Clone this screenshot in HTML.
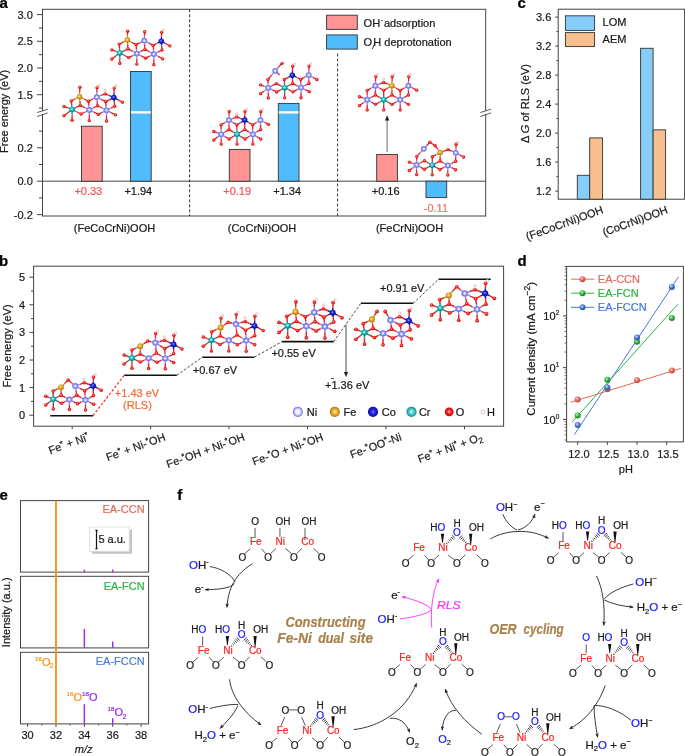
<!DOCTYPE html>
<html><head><meta charset="utf-8"><style>
html,body{margin:0;padding:0;background:#fff;width:685px;height:756px;overflow:hidden}
svg{display:block;will-change:transform;font-family:"Liberation Sans", sans-serif}
text{stroke-width:0.22px}
</style></head><body>
<svg width="685" height="756" viewBox="0 0 685 756" fill="#1a1a1a">
<defs>
<radialGradient id="gNi" cx="0.5" cy="0.5" r="0.5"><stop offset="0" stop-color="#ffffff"/><stop offset="0.22" stop-color="#f0f0ff"/><stop offset="0.5" stop-color="#9a9af2"/><stop offset="1" stop-color="#6c6cdc"/></radialGradient>
<radialGradient id="gFe" cx="0.45" cy="0.42" r="0.6"><stop offset="0" stop-color="#fff08a"/><stop offset="0.45" stop-color="#e0a830"/><stop offset="1" stop-color="#a86e10"/></radialGradient>
<radialGradient id="gCo" cx="0.45" cy="0.42" r="0.6"><stop offset="0" stop-color="#9090ff"/><stop offset="0.45" stop-color="#2020d0"/><stop offset="1" stop-color="#0a0a80"/></radialGradient>
<radialGradient id="gCr" cx="0.45" cy="0.42" r="0.6"><stop offset="0" stop-color="#b0ffff"/><stop offset="0.45" stop-color="#30b8b8"/><stop offset="1" stop-color="#107070"/></radialGradient>
<radialGradient id="gO" cx="0.45" cy="0.42" r="0.6"><stop offset="0" stop-color="#ff9a9a"/><stop offset="0.5" stop-color="#f02020"/><stop offset="1" stop-color="#c00000"/></radialGradient>
<radialGradient id="gR" cx="0.4" cy="0.35" r="0.65"><stop offset="0" stop-color="#ffd0c8"/><stop offset="0.5" stop-color="#e06a58"/><stop offset="1" stop-color="#b84a3a"/></radialGradient>
<radialGradient id="gG" cx="0.4" cy="0.35" r="0.65"><stop offset="0" stop-color="#c8ffc8"/><stop offset="0.5" stop-color="#30b040"/><stop offset="1" stop-color="#1a8028"/></radialGradient>
<radialGradient id="gB" cx="0.4" cy="0.35" r="0.65"><stop offset="0" stop-color="#d0e0ff"/><stop offset="0.5" stop-color="#4a78d8"/><stop offset="1" stop-color="#2a50a8"/></radialGradient>
<radialGradient id="gLNi" cx="0.5" cy="0.5" r="0.5"><stop offset="0" stop-color="#ffffff"/><stop offset="0.5" stop-color="#e6e6ff"/><stop offset="0.78" stop-color="#a0a0f6"/><stop offset="1" stop-color="#6c6ce6"/></radialGradient>
<radialGradient id="gLFe" cx="0.5" cy="0.5" r="0.5"><stop offset="0" stop-color="#fff6a8"/><stop offset="0.35" stop-color="#f2c448"/><stop offset="0.75" stop-color="#d09422"/><stop offset="1" stop-color="#a87010"/></radialGradient>
<radialGradient id="gLCo" cx="0.5" cy="0.5" r="0.5"><stop offset="0" stop-color="#7878ff"/><stop offset="0.4" stop-color="#2a2ae2"/><stop offset="1" stop-color="#0808a0"/></radialGradient>
<radialGradient id="gLCr" cx="0.5" cy="0.5" r="0.5"><stop offset="0" stop-color="#e0ffff"/><stop offset="0.4" stop-color="#60d8d8"/><stop offset="0.8" stop-color="#28a8a8"/><stop offset="1" stop-color="#168080"/></radialGradient>
<radialGradient id="gLO" cx="0.5" cy="0.5" r="0.5"><stop offset="0" stop-color="#ffb0b0"/><stop offset="0.4" stop-color="#ff3030"/><stop offset="1" stop-color="#c00000"/></radialGradient>
<marker id="ah" viewBox="0 0 10 10" refX="9" refY="5" markerWidth="5" markerHeight="5" orient="auto-start-reverse"><path d="M0,1 L10,5 L0,9 L2.5,5 z" fill="#222"/></marker>
<marker id="ahm" viewBox="0 0 10 10" refX="9" refY="5" markerWidth="5" markerHeight="5" orient="auto-start-reverse"><path d="M0,1 L10,5 L0,9 L2.5,5 z" fill="#ff22ff"/></marker>
</defs>
<text x="-0.50" y="8.20" font-size="15" fill="#000" font-weight="bold" stroke="#000">a</text>
<line x1="42.50" y1="9.30" x2="485.70" y2="9.30" stroke="#444" stroke-width="1" />
<line x1="42.50" y1="216.00" x2="485.70" y2="216.00" stroke="#444" stroke-width="1" />
<line x1="42.50" y1="8.80" x2="42.50" y2="110.80" stroke="#444" stroke-width="1" />
<line x1="42.50" y1="114.40" x2="42.50" y2="216.50" stroke="#444" stroke-width="1" />
<line x1="485.70" y1="8.80" x2="485.70" y2="110.80" stroke="#444" stroke-width="1" />
<line x1="485.70" y1="114.40" x2="485.70" y2="216.50" stroke="#444" stroke-width="1" />
<line x1="37.20" y1="112.50" x2="47.70" y2="109.20" stroke="#444" stroke-width="0.9" />
<line x1="37.20" y1="116.50" x2="47.70" y2="112.90" stroke="#444" stroke-width="0.9" />
<line x1="480.40" y1="112.50" x2="490.90" y2="109.20" stroke="#444" stroke-width="0.9" />
<line x1="480.40" y1="116.50" x2="490.90" y2="112.90" stroke="#444" stroke-width="0.9" />
<line x1="37.00" y1="14.60" x2="42.50" y2="14.60" stroke="#444" stroke-width="1" />
<text x="32.80" y="18.60" font-size="11" text-anchor="end" stroke="#1a1a1a">3.0</text>
<line x1="37.00" y1="41.30" x2="42.50" y2="41.30" stroke="#444" stroke-width="1" />
<text x="32.80" y="45.30" font-size="11" text-anchor="end" stroke="#1a1a1a">2.5</text>
<line x1="37.00" y1="68.00" x2="42.50" y2="68.00" stroke="#444" stroke-width="1" />
<text x="32.80" y="72.00" font-size="11" text-anchor="end" stroke="#1a1a1a">2.0</text>
<line x1="37.00" y1="94.70" x2="42.50" y2="94.70" stroke="#444" stroke-width="1" />
<text x="32.80" y="98.70" font-size="11" text-anchor="end" stroke="#1a1a1a">1.5</text>
<line x1="39.00" y1="27.95" x2="42.50" y2="27.95" stroke="#444" stroke-width="1" />
<line x1="39.00" y1="54.65" x2="42.50" y2="54.65" stroke="#444" stroke-width="1" />
<line x1="39.00" y1="81.35" x2="42.50" y2="81.35" stroke="#444" stroke-width="1" />
<line x1="39.00" y1="108.05" x2="42.50" y2="108.05" stroke="#444" stroke-width="1" />
<line x1="37.00" y1="147.80" x2="42.50" y2="147.80" stroke="#444" stroke-width="1" />
<text x="32.80" y="151.80" font-size="11" text-anchor="end" stroke="#1a1a1a">0.2</text>
<line x1="37.00" y1="181.20" x2="42.50" y2="181.20" stroke="#444" stroke-width="1" />
<text x="32.80" y="185.20" font-size="11" text-anchor="end" stroke="#1a1a1a">0.0</text>
<line x1="37.00" y1="214.60" x2="42.50" y2="214.60" stroke="#444" stroke-width="1" />
<text x="32.80" y="218.60" font-size="11" text-anchor="end" stroke="#1a1a1a">-0.2</text>
<line x1="39.00" y1="131.10" x2="42.50" y2="131.10" stroke="#444" stroke-width="1" />
<line x1="39.00" y1="164.50" x2="42.50" y2="164.50" stroke="#444" stroke-width="1" />
<line x1="39.00" y1="197.90" x2="42.50" y2="197.90" stroke="#444" stroke-width="1" />
<line x1="42.50" y1="181.20" x2="485.70" y2="181.20" stroke="#444" stroke-width="1" />
<line x1="189.60" y1="9.30" x2="189.60" y2="216.00" stroke="#222" stroke-width="0.9" stroke-dasharray="3,2"/>
<line x1="337.60" y1="53.50" x2="337.60" y2="216.00" stroke="#222" stroke-width="0.9" stroke-dasharray="3,2"/>
<text x="7.60" y="111.40" font-size="11" text-anchor="middle" transform="rotate(-90 7.60 111.40)" stroke="#1a1a1a">Free energy (eV)</text>
<rect x="81.50" y="126.20" width="20.70" height="55.00" fill="#ff9494" stroke="#333" stroke-width="0.9" />
<rect x="130.50" y="71.50" width="20.70" height="109.70" fill="#50bcfe" stroke="#333" stroke-width="0.9" />
<rect x="131.00" y="111.20" width="19.70" height="2.30" fill="#fff" />
<rect x="229.30" y="149.40" width="20.70" height="31.80" fill="#ff9494" stroke="#333" stroke-width="0.9" />
<rect x="278.30" y="103.40" width="20.70" height="77.80" fill="#50bcfe" stroke="#333" stroke-width="0.9" />
<rect x="278.80" y="111.20" width="19.70" height="2.30" fill="#fff" />
<rect x="376.70" y="154.50" width="20.70" height="26.70" fill="#ff9494" stroke="#333" stroke-width="0.9" />
<rect x="426.00" y="181.20" width="20.70" height="16.40" fill="#50bcfe" stroke="#333" stroke-width="0.9" />
<text x="88.30" y="195.20" font-size="11" text-anchor="middle" fill="#f2555a" stroke="#f2555a">+0.33</text>
<text x="138.30" y="195.20" font-size="11" text-anchor="middle" stroke="#1a1a1a">+1.94</text>
<text x="237.20" y="195.20" font-size="11" text-anchor="middle" fill="#f2555a" stroke="#f2555a">+0.19</text>
<text x="287.20" y="195.20" font-size="11" text-anchor="middle" stroke="#1a1a1a">+1.34</text>
<text x="385.70" y="195.20" font-size="11" text-anchor="middle" stroke="#1a1a1a">+0.16</text>
<text x="435.90" y="211.50" font-size="11" text-anchor="middle" fill="#f07468" stroke="#f07468">-0.11</text>
<text x="114.50" y="231.70" font-size="11" text-anchor="middle" stroke="#1a1a1a">(FeCoCrNi)OOH</text>
<text x="262.00" y="231.70" font-size="11" text-anchor="middle" stroke="#1a1a1a">(CoCrNi)OOH</text>
<text x="409.50" y="231.70" font-size="11" text-anchor="middle" stroke="#1a1a1a">(FeCrNi)OOH</text>
<line x1="387.10" y1="152.00" x2="387.10" y2="119.50" stroke="#666" stroke-width="1.0" />
<path d="M384.9,120.5 L387.1,115.2 L389.3,120.5 Z" fill="#222"/>
<rect x="326.60" y="15.20" width="30.70" height="14.20" fill="#ff9494" stroke="#333" stroke-width="0.9" />
<rect x="326.60" y="34.90" width="30.70" height="14.20" fill="#50bcfe" stroke="#333" stroke-width="0.9" />
<text x="363.60" y="26.80" font-size="11" stroke="#1a1a1a">OH<tspan font-size="6" dy="-4.5" dx="1.0">-</tspan><tspan dy="4.5" dx="-2.2"> adsorption</tspan></text>
<text x="363.60" y="45.50" font-size="11" stroke="#1a1a1a">O<tspan dx="1.2">H deprotonation</tspan></text>
<line x1="372.30" y1="49.00" x2="374.80" y2="43.20" stroke="#222" stroke-width="0.9" />
<g><line x1="72.10" y1="109.50" x2="76.20" y2="107.43" stroke="#1a8a8a" stroke-width="1.33"/><line x1="76.20" y1="107.43" x2="80.30" y2="105.37" stroke="#e82222" stroke-width="1.33"/><line x1="72.10" y1="109.50" x2="71.70" y2="105.17" stroke="#1a8a8a" stroke-width="1.33"/><line x1="71.70" y1="105.17" x2="71.30" y2="100.83" stroke="#e82222" stroke-width="1.33"/><line x1="72.10" y1="109.50" x2="76.60" y2="111.77" stroke="#1a8a8a" stroke-width="1.33"/><line x1="76.60" y1="111.77" x2="81.10" y2="114.03" stroke="#e82222" stroke-width="1.33"/><line x1="72.10" y1="109.50" x2="72.10" y2="114.83" stroke="#1a8a8a" stroke-width="1.33"/><line x1="72.10" y1="114.83" x2="72.10" y2="120.17" stroke="#e82222" stroke-width="1.33"/><line x1="72.10" y1="109.50" x2="68.06" y2="107.95" stroke="#1a8a8a" stroke-width="1.33"/><line x1="68.06" y1="107.95" x2="64.01" y2="106.40" stroke="#e82222" stroke-width="1.33"/><line x1="72.10" y1="109.50" x2="68.06" y2="112.60" stroke="#1a8a8a" stroke-width="1.33"/><line x1="68.06" y1="112.60" x2="64.01" y2="115.69" stroke="#e82222" stroke-width="1.33"/><line x1="79.50" y1="96.70" x2="79.90" y2="101.03" stroke="#c89028" stroke-width="1.33"/><line x1="79.90" y1="101.03" x2="80.30" y2="105.37" stroke="#e82222" stroke-width="1.33"/><line x1="79.50" y1="96.70" x2="75.40" y2="98.77" stroke="#c89028" stroke-width="1.33"/><line x1="75.40" y1="98.77" x2="71.30" y2="100.83" stroke="#e82222" stroke-width="1.33"/><line x1="79.50" y1="96.70" x2="84.00" y2="98.97" stroke="#c89028" stroke-width="1.33"/><line x1="84.00" y1="98.97" x2="88.50" y2="101.23" stroke="#e82222" stroke-width="1.33"/><line x1="79.50" y1="96.70" x2="79.67" y2="91.97" stroke="#c89028" stroke-width="1.33"/><line x1="79.67" y1="91.97" x2="79.84" y2="87.24" stroke="#e82222" stroke-width="1.33"/><line x1="89.30" y1="109.90" x2="84.80" y2="107.63" stroke="#8a8af0" stroke-width="1.33"/><line x1="84.80" y1="107.63" x2="80.30" y2="105.37" stroke="#e82222" stroke-width="1.33"/><line x1="89.30" y1="109.90" x2="93.40" y2="107.83" stroke="#8a8af0" stroke-width="1.33"/><line x1="93.40" y1="107.83" x2="97.50" y2="105.77" stroke="#e82222" stroke-width="1.33"/><line x1="89.30" y1="109.90" x2="88.90" y2="105.57" stroke="#8a8af0" stroke-width="1.33"/><line x1="88.90" y1="105.57" x2="88.50" y2="101.23" stroke="#e82222" stroke-width="1.33"/><line x1="89.30" y1="109.90" x2="85.20" y2="111.97" stroke="#8a8af0" stroke-width="1.33"/><line x1="85.20" y1="111.97" x2="81.10" y2="114.03" stroke="#e82222" stroke-width="1.33"/><line x1="89.30" y1="109.90" x2="93.80" y2="112.17" stroke="#8a8af0" stroke-width="1.33"/><line x1="93.80" y1="112.17" x2="98.30" y2="114.43" stroke="#e82222" stroke-width="1.33"/><line x1="89.30" y1="109.90" x2="89.30" y2="115.23" stroke="#8a8af0" stroke-width="1.33"/><line x1="89.30" y1="115.23" x2="89.30" y2="120.57" stroke="#e82222" stroke-width="1.33"/><line x1="96.70" y1="97.10" x2="97.10" y2="101.43" stroke="#8a8af0" stroke-width="1.33"/><line x1="97.10" y1="101.43" x2="97.50" y2="105.77" stroke="#e82222" stroke-width="1.33"/><line x1="96.70" y1="97.10" x2="92.60" y2="99.17" stroke="#8a8af0" stroke-width="1.33"/><line x1="92.60" y1="99.17" x2="88.50" y2="101.23" stroke="#e82222" stroke-width="1.33"/><line x1="96.70" y1="97.10" x2="101.20" y2="99.37" stroke="#8a8af0" stroke-width="1.33"/><line x1="101.20" y1="99.37" x2="105.70" y2="101.63" stroke="#e82222" stroke-width="1.33"/><line x1="96.70" y1="97.10" x2="96.87" y2="92.37" stroke="#8a8af0" stroke-width="1.33"/><line x1="96.87" y1="92.37" x2="97.04" y2="87.64" stroke="#e82222" stroke-width="1.33"/><line x1="96.70" y1="97.10" x2="101.00" y2="95.48" stroke="#8a8af0" stroke-width="1.33"/><line x1="101.00" y1="95.48" x2="105.30" y2="93.86" stroke="#e82222" stroke-width="1.33"/><line x1="106.50" y1="110.30" x2="102.00" y2="108.03" stroke="#8a8af0" stroke-width="1.33"/><line x1="102.00" y1="108.03" x2="97.50" y2="105.77" stroke="#e82222" stroke-width="1.33"/><line x1="106.50" y1="110.30" x2="110.60" y2="108.23" stroke="#8a8af0" stroke-width="1.33"/><line x1="110.60" y1="108.23" x2="114.70" y2="106.17" stroke="#e82222" stroke-width="1.33"/><line x1="106.50" y1="110.30" x2="106.10" y2="105.97" stroke="#8a8af0" stroke-width="1.33"/><line x1="106.10" y1="105.97" x2="105.70" y2="101.63" stroke="#e82222" stroke-width="1.33"/><line x1="106.50" y1="110.30" x2="102.40" y2="112.37" stroke="#8a8af0" stroke-width="1.33"/><line x1="102.40" y1="112.37" x2="98.30" y2="114.43" stroke="#e82222" stroke-width="1.33"/><line x1="106.50" y1="110.30" x2="111.00" y2="112.57" stroke="#8a8af0" stroke-width="1.33"/><line x1="111.00" y1="112.57" x2="115.50" y2="114.83" stroke="#e82222" stroke-width="1.33"/><line x1="106.50" y1="110.30" x2="106.50" y2="115.63" stroke="#8a8af0" stroke-width="1.33"/><line x1="106.50" y1="115.63" x2="106.50" y2="120.97" stroke="#e82222" stroke-width="1.33"/><line x1="113.90" y1="97.50" x2="114.30" y2="101.83" stroke="#1818b0" stroke-width="1.33"/><line x1="114.30" y1="101.83" x2="114.70" y2="106.17" stroke="#e82222" stroke-width="1.33"/><line x1="113.90" y1="97.50" x2="109.80" y2="99.57" stroke="#1818b0" stroke-width="1.33"/><line x1="109.80" y1="99.57" x2="105.70" y2="101.63" stroke="#e82222" stroke-width="1.33"/><line x1="113.90" y1="97.50" x2="118.20" y2="99.82" stroke="#1818b0" stroke-width="1.33"/><line x1="118.20" y1="99.82" x2="122.50" y2="102.15" stroke="#e82222" stroke-width="1.33"/><line x1="113.90" y1="97.50" x2="109.60" y2="95.68" stroke="#1818b0" stroke-width="1.33"/><line x1="109.60" y1="95.68" x2="105.30" y2="93.86" stroke="#e82222" stroke-width="1.33"/><line x1="113.90" y1="97.50" x2="114.07" y2="92.77" stroke="#1818b0" stroke-width="1.33"/><line x1="114.07" y1="92.77" x2="114.24" y2="88.04" stroke="#e82222" stroke-width="1.33"/><circle cx="80.30" cy="105.37" r="1.66" fill="url(#gO)"/><circle cx="97.50" cy="105.77" r="1.66" fill="url(#gO)"/><circle cx="114.70" cy="106.17" r="1.66" fill="url(#gO)"/><circle cx="71.30" cy="100.83" r="1.66" fill="url(#gO)"/><circle cx="88.50" cy="101.23" r="1.66" fill="url(#gO)"/><circle cx="105.70" cy="101.63" r="1.66" fill="url(#gO)"/><circle cx="81.10" cy="114.03" r="1.66" fill="url(#gO)"/><circle cx="98.30" cy="114.43" r="1.66" fill="url(#gO)"/><circle cx="115.50" cy="114.83" r="1.66" fill="url(#gO)"/><circle cx="72.10" cy="120.17" r="1.66" fill="url(#gO)"/><circle cx="89.30" cy="120.57" r="1.66" fill="url(#gO)"/><circle cx="106.50" cy="120.97" r="1.66" fill="url(#gO)"/><circle cx="64.01" cy="106.40" r="1.66" fill="url(#gO)"/><circle cx="64.01" cy="115.69" r="1.66" fill="url(#gO)"/><circle cx="122.50" cy="102.15" r="1.66" fill="url(#gO)"/><circle cx="79.84" cy="87.24" r="1.66" fill="url(#gO)"/><circle cx="97.04" cy="87.64" r="1.66" fill="url(#gO)"/><circle cx="105.30" cy="93.86" r="1.66" fill="url(#gO)"/><circle cx="114.24" cy="88.04" r="1.66" fill="url(#gO)"/><circle cx="72.10" cy="109.50" r="2.75" fill="url(#gCr)"/><circle cx="79.50" cy="96.70" r="2.75" fill="url(#gFe)"/><circle cx="89.30" cy="109.90" r="2.87" fill="url(#gNi)"/><circle cx="96.70" cy="97.10" r="2.87" fill="url(#gNi)"/><circle cx="106.50" cy="110.30" r="2.87" fill="url(#gNi)"/><circle cx="113.90" cy="97.50" r="2.75" fill="url(#gCo)"/><circle cx="98.76" cy="85.40" r="1.14" fill="#fbf0f0" stroke="#e2a8a8" stroke-width="0.6"/><circle cx="105.30" cy="90.42" r="1.14" fill="#fbf0f0" stroke="#e2a8a8" stroke-width="0.6"/><circle cx="115.96" cy="85.80" r="1.14" fill="#fbf0f0" stroke="#e2a8a8" stroke-width="0.6"/></g>
<g><line x1="119.80" y1="52.90" x2="123.88" y2="50.85" stroke="#1a8a8a" stroke-width="1.33"/><line x1="123.88" y1="50.85" x2="127.97" y2="48.80" stroke="#e82222" stroke-width="1.33"/><line x1="119.80" y1="52.90" x2="119.47" y2="48.50" stroke="#1a8a8a" stroke-width="1.33"/><line x1="119.47" y1="48.50" x2="119.13" y2="44.10" stroke="#e82222" stroke-width="1.33"/><line x1="119.80" y1="52.90" x2="124.22" y2="55.25" stroke="#1a8a8a" stroke-width="1.33"/><line x1="124.22" y1="55.25" x2="128.63" y2="57.60" stroke="#e82222" stroke-width="1.33"/><line x1="119.80" y1="52.90" x2="119.80" y2="58.17" stroke="#1a8a8a" stroke-width="1.33"/><line x1="119.80" y1="58.17" x2="119.80" y2="63.45" stroke="#e82222" stroke-width="1.33"/><line x1="119.80" y1="52.90" x2="115.80" y2="51.37" stroke="#1a8a8a" stroke-width="1.33"/><line x1="115.80" y1="51.37" x2="111.81" y2="49.84" stroke="#e82222" stroke-width="1.33"/><line x1="119.80" y1="52.90" x2="115.80" y2="55.96" stroke="#1a8a8a" stroke-width="1.33"/><line x1="115.80" y1="55.96" x2="111.81" y2="59.02" stroke="#e82222" stroke-width="1.33"/><line x1="127.30" y1="40.00" x2="127.63" y2="44.40" stroke="#c89028" stroke-width="1.33"/><line x1="127.63" y1="44.40" x2="127.97" y2="48.80" stroke="#e82222" stroke-width="1.33"/><line x1="127.30" y1="40.00" x2="123.22" y2="42.05" stroke="#c89028" stroke-width="1.33"/><line x1="123.22" y1="42.05" x2="119.13" y2="44.10" stroke="#e82222" stroke-width="1.33"/><line x1="127.30" y1="40.00" x2="131.72" y2="42.35" stroke="#c89028" stroke-width="1.33"/><line x1="131.72" y1="42.35" x2="136.13" y2="44.70" stroke="#e82222" stroke-width="1.33"/><line x1="127.30" y1="40.00" x2="127.47" y2="35.58" stroke="#c89028" stroke-width="1.33"/><line x1="127.47" y1="35.58" x2="127.64" y2="31.15" stroke="#e82222" stroke-width="1.33"/><line x1="136.80" y1="53.50" x2="132.38" y2="51.15" stroke="#8a8af0" stroke-width="1.33"/><line x1="132.38" y1="51.15" x2="127.97" y2="48.80" stroke="#e82222" stroke-width="1.33"/><line x1="136.80" y1="53.50" x2="140.88" y2="51.45" stroke="#8a8af0" stroke-width="1.33"/><line x1="140.88" y1="51.45" x2="144.97" y2="49.40" stroke="#e82222" stroke-width="1.33"/><line x1="136.80" y1="53.50" x2="136.47" y2="49.10" stroke="#8a8af0" stroke-width="1.33"/><line x1="136.47" y1="49.10" x2="136.13" y2="44.70" stroke="#e82222" stroke-width="1.33"/><line x1="136.80" y1="53.50" x2="132.72" y2="55.55" stroke="#8a8af0" stroke-width="1.33"/><line x1="132.72" y1="55.55" x2="128.63" y2="57.60" stroke="#e82222" stroke-width="1.33"/><line x1="136.80" y1="53.50" x2="141.22" y2="55.85" stroke="#8a8af0" stroke-width="1.33"/><line x1="141.22" y1="55.85" x2="145.63" y2="58.20" stroke="#e82222" stroke-width="1.33"/><line x1="136.80" y1="53.50" x2="136.80" y2="58.77" stroke="#8a8af0" stroke-width="1.33"/><line x1="136.80" y1="58.77" x2="136.80" y2="64.05" stroke="#e82222" stroke-width="1.33"/><line x1="144.30" y1="40.60" x2="144.63" y2="45.00" stroke="#8a8af0" stroke-width="1.33"/><line x1="144.63" y1="45.00" x2="144.97" y2="49.40" stroke="#e82222" stroke-width="1.33"/><line x1="144.30" y1="40.60" x2="140.22" y2="42.65" stroke="#8a8af0" stroke-width="1.33"/><line x1="140.22" y1="42.65" x2="136.13" y2="44.70" stroke="#e82222" stroke-width="1.33"/><line x1="144.30" y1="40.60" x2="148.72" y2="42.95" stroke="#8a8af0" stroke-width="1.33"/><line x1="148.72" y1="42.95" x2="153.13" y2="45.30" stroke="#e82222" stroke-width="1.33"/><line x1="144.30" y1="40.60" x2="144.47" y2="36.18" stroke="#8a8af0" stroke-width="1.33"/><line x1="144.47" y1="36.18" x2="144.64" y2="31.75" stroke="#e82222" stroke-width="1.33"/><line x1="153.80" y1="54.10" x2="149.38" y2="51.75" stroke="#8a8af0" stroke-width="1.33"/><line x1="149.38" y1="51.75" x2="144.97" y2="49.40" stroke="#e82222" stroke-width="1.33"/><line x1="153.80" y1="54.10" x2="157.88" y2="52.05" stroke="#8a8af0" stroke-width="1.33"/><line x1="157.88" y1="52.05" x2="161.97" y2="50.00" stroke="#e82222" stroke-width="1.33"/><line x1="153.80" y1="54.10" x2="153.47" y2="49.70" stroke="#8a8af0" stroke-width="1.33"/><line x1="153.47" y1="49.70" x2="153.13" y2="45.30" stroke="#e82222" stroke-width="1.33"/><line x1="153.80" y1="54.10" x2="149.72" y2="56.15" stroke="#8a8af0" stroke-width="1.33"/><line x1="149.72" y1="56.15" x2="145.63" y2="58.20" stroke="#e82222" stroke-width="1.33"/><line x1="153.80" y1="54.10" x2="158.22" y2="56.45" stroke="#8a8af0" stroke-width="1.33"/><line x1="158.22" y1="56.45" x2="162.63" y2="58.80" stroke="#e82222" stroke-width="1.33"/><line x1="153.80" y1="54.10" x2="153.80" y2="59.37" stroke="#8a8af0" stroke-width="1.33"/><line x1="153.80" y1="59.37" x2="153.80" y2="64.65" stroke="#e82222" stroke-width="1.33"/><line x1="161.30" y1="41.20" x2="161.63" y2="45.60" stroke="#1818b0" stroke-width="1.33"/><line x1="161.63" y1="45.60" x2="161.97" y2="50.00" stroke="#e82222" stroke-width="1.33"/><line x1="161.30" y1="41.20" x2="157.22" y2="43.25" stroke="#1818b0" stroke-width="1.33"/><line x1="157.22" y1="43.25" x2="153.13" y2="45.30" stroke="#e82222" stroke-width="1.33"/><line x1="161.30" y1="41.20" x2="165.55" y2="43.50" stroke="#1818b0" stroke-width="1.33"/><line x1="165.55" y1="43.50" x2="169.81" y2="45.79" stroke="#e82222" stroke-width="1.33"/><line x1="161.30" y1="41.20" x2="161.47" y2="36.78" stroke="#1818b0" stroke-width="1.33"/><line x1="161.47" y1="36.78" x2="161.64" y2="32.35" stroke="#e82222" stroke-width="1.33"/><circle cx="127.97" cy="48.80" r="1.66" fill="url(#gO)"/><circle cx="144.97" cy="49.40" r="1.66" fill="url(#gO)"/><circle cx="161.97" cy="50.00" r="1.66" fill="url(#gO)"/><circle cx="119.13" cy="44.10" r="1.66" fill="url(#gO)"/><circle cx="136.13" cy="44.70" r="1.66" fill="url(#gO)"/><circle cx="153.13" cy="45.30" r="1.66" fill="url(#gO)"/><circle cx="128.63" cy="57.60" r="1.66" fill="url(#gO)"/><circle cx="145.63" cy="58.20" r="1.66" fill="url(#gO)"/><circle cx="162.63" cy="58.80" r="1.66" fill="url(#gO)"/><circle cx="119.80" cy="63.45" r="1.66" fill="url(#gO)"/><circle cx="136.80" cy="64.05" r="1.66" fill="url(#gO)"/><circle cx="153.80" cy="64.65" r="1.66" fill="url(#gO)"/><circle cx="111.81" cy="49.84" r="1.66" fill="url(#gO)"/><circle cx="111.81" cy="59.02" r="1.66" fill="url(#gO)"/><circle cx="169.81" cy="45.79" r="1.66" fill="url(#gO)"/><circle cx="127.64" cy="31.15" r="1.66" fill="url(#gO)"/><circle cx="144.64" cy="31.75" r="1.66" fill="url(#gO)"/><circle cx="161.64" cy="32.35" r="1.66" fill="url(#gO)"/><circle cx="119.80" cy="52.90" r="2.75" fill="url(#gCr)"/><circle cx="127.30" cy="40.00" r="2.75" fill="url(#gFe)"/><circle cx="136.80" cy="53.50" r="2.87" fill="url(#gNi)"/><circle cx="144.30" cy="40.60" r="2.87" fill="url(#gNi)"/><circle cx="153.80" cy="54.10" r="2.87" fill="url(#gNi)"/><circle cx="161.30" cy="41.20" r="2.75" fill="url(#gCo)"/><circle cx="163.34" cy="30.14" r="1.14" fill="#fbf0f0" stroke="#e2a8a8" stroke-width="0.6"/></g>
<g><line x1="221.20" y1="134.30" x2="225.12" y2="131.93" stroke="#8a8af0" stroke-width="1.33"/><line x1="225.12" y1="131.93" x2="229.03" y2="129.57" stroke="#e82222" stroke-width="1.33"/><line x1="221.20" y1="134.30" x2="221.13" y2="129.57" stroke="#8a8af0" stroke-width="1.33"/><line x1="221.13" y1="129.57" x2="221.07" y2="124.83" stroke="#e82222" stroke-width="1.33"/><line x1="221.20" y1="134.30" x2="225.18" y2="136.67" stroke="#8a8af0" stroke-width="1.33"/><line x1="225.18" y1="136.67" x2="229.17" y2="139.03" stroke="#e82222" stroke-width="1.33"/><line x1="221.20" y1="134.30" x2="221.20" y2="139.20" stroke="#8a8af0" stroke-width="1.33"/><line x1="221.20" y1="139.20" x2="221.20" y2="144.10" stroke="#e82222" stroke-width="1.33"/><line x1="221.20" y1="134.30" x2="217.49" y2="132.88" stroke="#8a8af0" stroke-width="1.33"/><line x1="217.49" y1="132.88" x2="213.77" y2="131.46" stroke="#e82222" stroke-width="1.33"/><line x1="221.20" y1="134.30" x2="217.49" y2="137.14" stroke="#8a8af0" stroke-width="1.33"/><line x1="217.49" y1="137.14" x2="213.77" y2="139.99" stroke="#e82222" stroke-width="1.33"/><line x1="228.90" y1="120.10" x2="228.97" y2="124.83" stroke="#8a8af0" stroke-width="1.33"/><line x1="228.97" y1="124.83" x2="229.03" y2="129.57" stroke="#e82222" stroke-width="1.33"/><line x1="228.90" y1="120.10" x2="224.98" y2="122.47" stroke="#8a8af0" stroke-width="1.33"/><line x1="224.98" y1="122.47" x2="221.07" y2="124.83" stroke="#e82222" stroke-width="1.33"/><line x1="228.90" y1="120.10" x2="232.88" y2="122.47" stroke="#8a8af0" stroke-width="1.33"/><line x1="232.88" y1="122.47" x2="236.87" y2="124.83" stroke="#e82222" stroke-width="1.33"/><line x1="228.90" y1="120.10" x2="229.06" y2="115.76" stroke="#8a8af0" stroke-width="1.33"/><line x1="229.06" y1="115.76" x2="229.22" y2="111.41" stroke="#e82222" stroke-width="1.33"/><line x1="228.90" y1="120.10" x2="232.85" y2="118.52" stroke="#8a8af0" stroke-width="1.33"/><line x1="232.85" y1="118.52" x2="236.80" y2="116.94" stroke="#e82222" stroke-width="1.33"/><line x1="237.00" y1="134.30" x2="233.02" y2="131.93" stroke="#1a8a8a" stroke-width="1.33"/><line x1="233.02" y1="131.93" x2="229.03" y2="129.57" stroke="#e82222" stroke-width="1.33"/><line x1="237.00" y1="134.30" x2="240.92" y2="131.93" stroke="#1a8a8a" stroke-width="1.33"/><line x1="240.92" y1="131.93" x2="244.83" y2="129.57" stroke="#e82222" stroke-width="1.33"/><line x1="237.00" y1="134.30" x2="236.93" y2="129.57" stroke="#1a8a8a" stroke-width="1.33"/><line x1="236.93" y1="129.57" x2="236.87" y2="124.83" stroke="#e82222" stroke-width="1.33"/><line x1="237.00" y1="134.30" x2="233.08" y2="136.67" stroke="#1a8a8a" stroke-width="1.33"/><line x1="233.08" y1="136.67" x2="229.17" y2="139.03" stroke="#e82222" stroke-width="1.33"/><line x1="237.00" y1="134.30" x2="240.98" y2="136.67" stroke="#1a8a8a" stroke-width="1.33"/><line x1="240.98" y1="136.67" x2="244.97" y2="139.03" stroke="#e82222" stroke-width="1.33"/><line x1="237.00" y1="134.30" x2="237.00" y2="139.20" stroke="#1a8a8a" stroke-width="1.33"/><line x1="237.00" y1="139.20" x2="237.00" y2="144.10" stroke="#e82222" stroke-width="1.33"/><line x1="244.70" y1="120.10" x2="244.77" y2="124.83" stroke="#1818b0" stroke-width="1.33"/><line x1="244.77" y1="124.83" x2="244.83" y2="129.57" stroke="#e82222" stroke-width="1.33"/><line x1="244.70" y1="120.10" x2="240.78" y2="122.47" stroke="#1818b0" stroke-width="1.33"/><line x1="240.78" y1="122.47" x2="236.87" y2="124.83" stroke="#e82222" stroke-width="1.33"/><line x1="244.70" y1="120.10" x2="248.68" y2="122.47" stroke="#1818b0" stroke-width="1.33"/><line x1="248.68" y1="122.47" x2="252.67" y2="124.83" stroke="#e82222" stroke-width="1.33"/><line x1="244.70" y1="120.10" x2="240.75" y2="118.52" stroke="#1818b0" stroke-width="1.33"/><line x1="240.75" y1="118.52" x2="236.80" y2="116.94" stroke="#e82222" stroke-width="1.33"/><line x1="244.70" y1="120.10" x2="244.86" y2="115.76" stroke="#1818b0" stroke-width="1.33"/><line x1="244.86" y1="115.76" x2="245.02" y2="111.41" stroke="#e82222" stroke-width="1.33"/><line x1="252.80" y1="134.30" x2="248.82" y2="131.93" stroke="#8a8af0" stroke-width="1.33"/><line x1="248.82" y1="131.93" x2="244.83" y2="129.57" stroke="#e82222" stroke-width="1.33"/><line x1="252.80" y1="134.30" x2="256.72" y2="131.93" stroke="#8a8af0" stroke-width="1.33"/><line x1="256.72" y1="131.93" x2="260.63" y2="129.57" stroke="#e82222" stroke-width="1.33"/><line x1="252.80" y1="134.30" x2="252.73" y2="129.57" stroke="#8a8af0" stroke-width="1.33"/><line x1="252.73" y1="129.57" x2="252.67" y2="124.83" stroke="#e82222" stroke-width="1.33"/><line x1="252.80" y1="134.30" x2="248.88" y2="136.67" stroke="#8a8af0" stroke-width="1.33"/><line x1="248.88" y1="136.67" x2="244.97" y2="139.03" stroke="#e82222" stroke-width="1.33"/><line x1="252.80" y1="134.30" x2="256.78" y2="136.67" stroke="#8a8af0" stroke-width="1.33"/><line x1="256.78" y1="136.67" x2="260.77" y2="139.03" stroke="#e82222" stroke-width="1.33"/><line x1="252.80" y1="134.30" x2="252.80" y2="139.20" stroke="#8a8af0" stroke-width="1.33"/><line x1="252.80" y1="139.20" x2="252.80" y2="144.10" stroke="#e82222" stroke-width="1.33"/><line x1="260.50" y1="120.10" x2="260.57" y2="124.83" stroke="#8a8af0" stroke-width="1.33"/><line x1="260.57" y1="124.83" x2="260.63" y2="129.57" stroke="#e82222" stroke-width="1.33"/><line x1="260.50" y1="120.10" x2="256.58" y2="122.47" stroke="#8a8af0" stroke-width="1.33"/><line x1="256.58" y1="122.47" x2="252.67" y2="124.83" stroke="#e82222" stroke-width="1.33"/><line x1="260.50" y1="120.10" x2="264.45" y2="122.23" stroke="#8a8af0" stroke-width="1.33"/><line x1="264.45" y1="122.23" x2="268.40" y2="124.37" stroke="#e82222" stroke-width="1.33"/><line x1="260.50" y1="120.10" x2="260.66" y2="115.76" stroke="#8a8af0" stroke-width="1.33"/><line x1="260.66" y1="115.76" x2="260.82" y2="111.41" stroke="#e82222" stroke-width="1.33"/><circle cx="229.03" cy="129.57" r="1.66" fill="url(#gO)"/><circle cx="244.83" cy="129.57" r="1.66" fill="url(#gO)"/><circle cx="260.63" cy="129.57" r="1.66" fill="url(#gO)"/><circle cx="221.07" cy="124.83" r="1.66" fill="url(#gO)"/><circle cx="236.87" cy="124.83" r="1.66" fill="url(#gO)"/><circle cx="252.67" cy="124.83" r="1.66" fill="url(#gO)"/><circle cx="229.17" cy="139.03" r="1.66" fill="url(#gO)"/><circle cx="244.97" cy="139.03" r="1.66" fill="url(#gO)"/><circle cx="260.77" cy="139.03" r="1.66" fill="url(#gO)"/><circle cx="221.20" cy="144.10" r="1.66" fill="url(#gO)"/><circle cx="237.00" cy="144.10" r="1.66" fill="url(#gO)"/><circle cx="252.80" cy="144.10" r="1.66" fill="url(#gO)"/><circle cx="213.77" cy="131.46" r="1.66" fill="url(#gO)"/><circle cx="213.77" cy="139.99" r="1.66" fill="url(#gO)"/><circle cx="268.40" cy="124.37" r="1.66" fill="url(#gO)"/><circle cx="229.22" cy="111.41" r="1.66" fill="url(#gO)"/><circle cx="236.80" cy="116.94" r="1.66" fill="url(#gO)"/><circle cx="245.02" cy="111.41" r="1.66" fill="url(#gO)"/><circle cx="260.82" cy="111.41" r="1.66" fill="url(#gO)"/><circle cx="221.20" cy="134.30" r="2.87" fill="url(#gNi)"/><circle cx="228.90" cy="120.10" r="2.87" fill="url(#gNi)"/><circle cx="237.00" cy="134.30" r="2.75" fill="url(#gCr)"/><circle cx="244.70" cy="120.10" r="2.75" fill="url(#gCo)"/><circle cx="252.80" cy="134.30" r="2.87" fill="url(#gNi)"/><circle cx="260.50" cy="120.10" r="2.87" fill="url(#gNi)"/><circle cx="236.80" cy="113.78" r="1.14" fill="#fbf0f0" stroke="#e2a8a8" stroke-width="0.6"/><circle cx="246.60" cy="109.36" r="1.14" fill="#fbf0f0" stroke="#e2a8a8" stroke-width="0.6"/><circle cx="262.40" cy="109.36" r="1.14" fill="#fbf0f0" stroke="#e2a8a8" stroke-width="0.6"/></g>
<g><line x1="268.30" y1="87.80" x2="272.31" y2="85.70" stroke="#8a8af0" stroke-width="1.33"/><line x1="272.31" y1="85.70" x2="276.32" y2="83.60" stroke="#e82222" stroke-width="1.33"/><line x1="268.30" y1="87.80" x2="268.14" y2="83.65" stroke="#8a8af0" stroke-width="1.33"/><line x1="268.14" y1="83.65" x2="267.98" y2="79.50" stroke="#e82222" stroke-width="1.33"/><line x1="268.30" y1="87.80" x2="272.47" y2="89.85" stroke="#8a8af0" stroke-width="1.33"/><line x1="272.47" y1="89.85" x2="276.63" y2="91.90" stroke="#e82222" stroke-width="1.33"/><line x1="268.30" y1="87.80" x2="268.30" y2="92.87" stroke="#8a8af0" stroke-width="1.33"/><line x1="268.30" y1="92.87" x2="268.30" y2="97.94" stroke="#e82222" stroke-width="1.33"/><line x1="268.30" y1="87.80" x2="264.46" y2="86.33" stroke="#8a8af0" stroke-width="1.33"/><line x1="264.46" y1="86.33" x2="260.62" y2="84.86" stroke="#e82222" stroke-width="1.33"/><line x1="268.30" y1="87.80" x2="264.46" y2="90.74" stroke="#8a8af0" stroke-width="1.33"/><line x1="264.46" y1="90.74" x2="260.62" y2="93.69" stroke="#e82222" stroke-width="1.33"/><line x1="275.20" y1="70.80" x2="271.59" y2="75.15" stroke="#8a8af0" stroke-width="1.33"/><line x1="271.59" y1="75.15" x2="267.98" y2="79.50" stroke="#e82222" stroke-width="1.33"/><line x1="275.20" y1="70.80" x2="278.65" y2="67.05" stroke="#8a8af0" stroke-width="1.33"/><line x1="278.65" y1="67.05" x2="282.10" y2="63.30" stroke="#e82222" stroke-width="1.33"/><line x1="284.65" y1="87.70" x2="280.48" y2="85.65" stroke="#1a8a8a" stroke-width="1.33"/><line x1="280.48" y1="85.65" x2="276.32" y2="83.60" stroke="#e82222" stroke-width="1.33"/><line x1="284.65" y1="87.70" x2="288.66" y2="85.60" stroke="#1a8a8a" stroke-width="1.33"/><line x1="288.66" y1="85.60" x2="292.67" y2="83.50" stroke="#e82222" stroke-width="1.33"/><line x1="284.65" y1="87.70" x2="284.49" y2="83.55" stroke="#1a8a8a" stroke-width="1.33"/><line x1="284.49" y1="83.55" x2="284.33" y2="79.40" stroke="#e82222" stroke-width="1.33"/><line x1="284.65" y1="87.70" x2="280.64" y2="89.80" stroke="#1a8a8a" stroke-width="1.33"/><line x1="280.64" y1="89.80" x2="276.63" y2="91.90" stroke="#e82222" stroke-width="1.33"/><line x1="284.65" y1="87.70" x2="288.82" y2="89.75" stroke="#1a8a8a" stroke-width="1.33"/><line x1="288.82" y1="89.75" x2="292.98" y2="91.80" stroke="#e82222" stroke-width="1.33"/><line x1="284.65" y1="87.70" x2="284.65" y2="92.77" stroke="#1a8a8a" stroke-width="1.33"/><line x1="284.65" y1="92.77" x2="284.65" y2="97.84" stroke="#e82222" stroke-width="1.33"/><line x1="292.35" y1="75.20" x2="292.51" y2="79.35" stroke="#1818b0" stroke-width="1.33"/><line x1="292.51" y1="79.35" x2="292.67" y2="83.50" stroke="#e82222" stroke-width="1.33"/><line x1="292.35" y1="75.20" x2="288.34" y2="77.30" stroke="#1818b0" stroke-width="1.33"/><line x1="288.34" y1="77.30" x2="284.33" y2="79.40" stroke="#e82222" stroke-width="1.33"/><line x1="292.35" y1="75.20" x2="296.52" y2="77.25" stroke="#1818b0" stroke-width="1.33"/><line x1="296.52" y1="77.25" x2="300.68" y2="79.30" stroke="#e82222" stroke-width="1.33"/><line x1="292.35" y1="75.20" x2="292.51" y2="70.70" stroke="#1818b0" stroke-width="1.33"/><line x1="292.51" y1="70.70" x2="292.68" y2="66.21" stroke="#e82222" stroke-width="1.33"/><line x1="301.00" y1="87.60" x2="296.83" y2="85.55" stroke="#8a8af0" stroke-width="1.33"/><line x1="296.83" y1="85.55" x2="292.67" y2="83.50" stroke="#e82222" stroke-width="1.33"/><line x1="301.00" y1="87.60" x2="305.01" y2="85.50" stroke="#8a8af0" stroke-width="1.33"/><line x1="305.01" y1="85.50" x2="309.02" y2="83.40" stroke="#e82222" stroke-width="1.33"/><line x1="301.00" y1="87.60" x2="300.84" y2="83.45" stroke="#8a8af0" stroke-width="1.33"/><line x1="300.84" y1="83.45" x2="300.68" y2="79.30" stroke="#e82222" stroke-width="1.33"/><line x1="301.00" y1="87.60" x2="296.99" y2="89.70" stroke="#8a8af0" stroke-width="1.33"/><line x1="296.99" y1="89.70" x2="292.98" y2="91.80" stroke="#e82222" stroke-width="1.33"/><line x1="301.00" y1="87.60" x2="305.17" y2="89.65" stroke="#8a8af0" stroke-width="1.33"/><line x1="305.17" y1="89.65" x2="309.33" y2="91.70" stroke="#e82222" stroke-width="1.33"/><line x1="301.00" y1="87.60" x2="301.00" y2="92.67" stroke="#8a8af0" stroke-width="1.33"/><line x1="301.00" y1="92.67" x2="301.00" y2="97.74" stroke="#e82222" stroke-width="1.33"/><line x1="308.70" y1="75.10" x2="308.86" y2="79.25" stroke="#8a8af0" stroke-width="1.33"/><line x1="308.86" y1="79.25" x2="309.02" y2="83.40" stroke="#e82222" stroke-width="1.33"/><line x1="308.70" y1="75.10" x2="304.69" y2="77.20" stroke="#8a8af0" stroke-width="1.33"/><line x1="304.69" y1="77.20" x2="300.68" y2="79.30" stroke="#e82222" stroke-width="1.33"/><line x1="308.70" y1="75.10" x2="312.79" y2="77.31" stroke="#8a8af0" stroke-width="1.33"/><line x1="312.79" y1="77.31" x2="316.88" y2="79.51" stroke="#e82222" stroke-width="1.33"/><line x1="308.70" y1="75.10" x2="308.86" y2="70.60" stroke="#8a8af0" stroke-width="1.33"/><line x1="308.86" y1="70.60" x2="309.03" y2="66.11" stroke="#e82222" stroke-width="1.33"/><line x1="275.20" y1="70.80" x2="279.60" y2="75.10" stroke="#e82222" stroke-width="1.33"/><circle cx="276.32" cy="83.60" r="1.66" fill="url(#gO)"/><circle cx="292.67" cy="83.50" r="1.66" fill="url(#gO)"/><circle cx="309.02" cy="83.40" r="1.66" fill="url(#gO)"/><circle cx="267.98" cy="79.50" r="1.66" fill="url(#gO)"/><circle cx="284.33" cy="79.40" r="1.66" fill="url(#gO)"/><circle cx="300.68" cy="79.30" r="1.66" fill="url(#gO)"/><circle cx="276.63" cy="91.90" r="1.66" fill="url(#gO)"/><circle cx="292.98" cy="91.80" r="1.66" fill="url(#gO)"/><circle cx="309.33" cy="91.70" r="1.66" fill="url(#gO)"/><circle cx="268.30" cy="97.94" r="1.66" fill="url(#gO)"/><circle cx="284.65" cy="97.84" r="1.66" fill="url(#gO)"/><circle cx="301.00" cy="97.74" r="1.66" fill="url(#gO)"/><circle cx="260.62" cy="84.86" r="1.66" fill="url(#gO)"/><circle cx="260.62" cy="93.69" r="1.66" fill="url(#gO)"/><circle cx="316.88" cy="79.51" r="1.66" fill="url(#gO)"/><circle cx="292.68" cy="66.21" r="1.66" fill="url(#gO)"/><circle cx="309.03" cy="66.11" r="1.66" fill="url(#gO)"/><circle cx="282.10" cy="63.30" r="1.66" fill="url(#gO)"/><circle cx="268.30" cy="87.80" r="2.87" fill="url(#gNi)"/><circle cx="275.20" cy="70.80" r="2.87" fill="url(#gNi)"/><circle cx="284.65" cy="87.70" r="2.75" fill="url(#gCr)"/><circle cx="292.35" cy="75.20" r="2.75" fill="url(#gCo)"/><circle cx="301.00" cy="87.60" r="2.87" fill="url(#gNi)"/><circle cx="308.70" cy="75.10" r="2.87" fill="url(#gNi)"/><circle cx="294.31" cy="64.08" r="1.14" fill="#fbf0f0" stroke="#e2a8a8" stroke-width="0.6"/><circle cx="310.66" cy="63.98" r="1.14" fill="#fbf0f0" stroke="#e2a8a8" stroke-width="0.6"/></g>
<g><line x1="367.20" y1="99.70" x2="371.32" y2="97.37" stroke="#8a8af0" stroke-width="1.33"/><line x1="371.32" y1="97.37" x2="375.43" y2="95.03" stroke="#e82222" stroke-width="1.33"/><line x1="367.20" y1="99.70" x2="367.18" y2="95.03" stroke="#8a8af0" stroke-width="1.33"/><line x1="367.18" y1="95.03" x2="367.17" y2="90.37" stroke="#e82222" stroke-width="1.33"/><line x1="367.20" y1="99.70" x2="371.33" y2="102.03" stroke="#8a8af0" stroke-width="1.33"/><line x1="371.33" y1="102.03" x2="375.47" y2="104.37" stroke="#e82222" stroke-width="1.33"/><line x1="367.20" y1="99.70" x2="367.20" y2="104.81" stroke="#8a8af0" stroke-width="1.33"/><line x1="367.20" y1="104.81" x2="367.20" y2="109.93" stroke="#e82222" stroke-width="1.33"/><line x1="367.20" y1="99.70" x2="363.32" y2="98.22" stroke="#8a8af0" stroke-width="1.33"/><line x1="363.32" y1="98.22" x2="359.44" y2="96.73" stroke="#e82222" stroke-width="1.33"/><line x1="367.20" y1="99.70" x2="363.32" y2="102.67" stroke="#8a8af0" stroke-width="1.33"/><line x1="363.32" y1="102.67" x2="359.44" y2="105.64" stroke="#e82222" stroke-width="1.33"/><line x1="375.40" y1="85.70" x2="375.42" y2="90.37" stroke="#8a8af0" stroke-width="1.33"/><line x1="375.42" y1="90.37" x2="375.43" y2="95.03" stroke="#e82222" stroke-width="1.33"/><line x1="375.40" y1="85.70" x2="371.28" y2="88.03" stroke="#8a8af0" stroke-width="1.33"/><line x1="371.28" y1="88.03" x2="367.17" y2="90.37" stroke="#e82222" stroke-width="1.33"/><line x1="375.40" y1="85.70" x2="379.53" y2="88.03" stroke="#8a8af0" stroke-width="1.33"/><line x1="379.53" y1="88.03" x2="383.67" y2="90.37" stroke="#e82222" stroke-width="1.33"/><line x1="375.40" y1="85.70" x2="375.56" y2="81.16" stroke="#8a8af0" stroke-width="1.33"/><line x1="375.56" y1="81.16" x2="375.73" y2="76.62" stroke="#e82222" stroke-width="1.33"/><line x1="375.40" y1="85.70" x2="379.52" y2="84.05" stroke="#8a8af0" stroke-width="1.33"/><line x1="379.52" y1="84.05" x2="383.65" y2="82.40" stroke="#e82222" stroke-width="1.33"/><line x1="383.70" y1="99.70" x2="379.57" y2="97.37" stroke="#1a8a8a" stroke-width="1.33"/><line x1="379.57" y1="97.37" x2="375.43" y2="95.03" stroke="#e82222" stroke-width="1.33"/><line x1="383.70" y1="99.70" x2="387.82" y2="97.37" stroke="#1a8a8a" stroke-width="1.33"/><line x1="387.82" y1="97.37" x2="391.93" y2="95.03" stroke="#e82222" stroke-width="1.33"/><line x1="383.70" y1="99.70" x2="383.68" y2="95.03" stroke="#1a8a8a" stroke-width="1.33"/><line x1="383.68" y1="95.03" x2="383.67" y2="90.37" stroke="#e82222" stroke-width="1.33"/><line x1="383.70" y1="99.70" x2="379.58" y2="102.03" stroke="#1a8a8a" stroke-width="1.33"/><line x1="379.58" y1="102.03" x2="375.47" y2="104.37" stroke="#e82222" stroke-width="1.33"/><line x1="383.70" y1="99.70" x2="387.83" y2="102.03" stroke="#1a8a8a" stroke-width="1.33"/><line x1="387.83" y1="102.03" x2="391.97" y2="104.37" stroke="#e82222" stroke-width="1.33"/><line x1="383.70" y1="99.70" x2="383.70" y2="104.81" stroke="#1a8a8a" stroke-width="1.33"/><line x1="383.70" y1="104.81" x2="383.70" y2="109.93" stroke="#e82222" stroke-width="1.33"/><line x1="391.90" y1="85.70" x2="391.92" y2="90.37" stroke="#c89028" stroke-width="1.33"/><line x1="391.92" y1="90.37" x2="391.93" y2="95.03" stroke="#e82222" stroke-width="1.33"/><line x1="391.90" y1="85.70" x2="387.78" y2="88.03" stroke="#c89028" stroke-width="1.33"/><line x1="387.78" y1="88.03" x2="383.67" y2="90.37" stroke="#e82222" stroke-width="1.33"/><line x1="391.90" y1="85.70" x2="396.03" y2="88.03" stroke="#c89028" stroke-width="1.33"/><line x1="396.03" y1="88.03" x2="400.17" y2="90.37" stroke="#e82222" stroke-width="1.33"/><line x1="391.90" y1="85.70" x2="387.77" y2="84.05" stroke="#c89028" stroke-width="1.33"/><line x1="387.77" y1="84.05" x2="383.65" y2="82.40" stroke="#e82222" stroke-width="1.33"/><line x1="391.90" y1="85.70" x2="392.06" y2="81.16" stroke="#c89028" stroke-width="1.33"/><line x1="392.06" y1="81.16" x2="392.23" y2="76.62" stroke="#e82222" stroke-width="1.33"/><line x1="400.20" y1="99.70" x2="396.07" y2="97.37" stroke="#8a8af0" stroke-width="1.33"/><line x1="396.07" y1="97.37" x2="391.93" y2="95.03" stroke="#e82222" stroke-width="1.33"/><line x1="400.20" y1="99.70" x2="404.32" y2="97.37" stroke="#8a8af0" stroke-width="1.33"/><line x1="404.32" y1="97.37" x2="408.43" y2="95.03" stroke="#e82222" stroke-width="1.33"/><line x1="400.20" y1="99.70" x2="400.18" y2="95.03" stroke="#8a8af0" stroke-width="1.33"/><line x1="400.18" y1="95.03" x2="400.17" y2="90.37" stroke="#e82222" stroke-width="1.33"/><line x1="400.20" y1="99.70" x2="396.08" y2="102.03" stroke="#8a8af0" stroke-width="1.33"/><line x1="396.08" y1="102.03" x2="391.97" y2="104.37" stroke="#e82222" stroke-width="1.33"/><line x1="400.20" y1="99.70" x2="404.33" y2="102.03" stroke="#8a8af0" stroke-width="1.33"/><line x1="404.33" y1="102.03" x2="408.47" y2="104.37" stroke="#e82222" stroke-width="1.33"/><line x1="400.20" y1="99.70" x2="400.20" y2="104.81" stroke="#8a8af0" stroke-width="1.33"/><line x1="400.20" y1="104.81" x2="400.20" y2="109.93" stroke="#e82222" stroke-width="1.33"/><line x1="408.40" y1="85.70" x2="408.42" y2="90.37" stroke="#8a8af0" stroke-width="1.33"/><line x1="408.42" y1="90.37" x2="408.43" y2="95.03" stroke="#e82222" stroke-width="1.33"/><line x1="408.40" y1="85.70" x2="404.28" y2="88.03" stroke="#8a8af0" stroke-width="1.33"/><line x1="404.28" y1="88.03" x2="400.17" y2="90.37" stroke="#e82222" stroke-width="1.33"/><line x1="408.40" y1="85.70" x2="412.52" y2="87.93" stroke="#8a8af0" stroke-width="1.33"/><line x1="412.52" y1="87.93" x2="416.65" y2="90.16" stroke="#e82222" stroke-width="1.33"/><line x1="408.40" y1="85.70" x2="408.56" y2="81.16" stroke="#8a8af0" stroke-width="1.33"/><line x1="408.56" y1="81.16" x2="408.73" y2="76.62" stroke="#e82222" stroke-width="1.33"/><circle cx="375.43" cy="95.03" r="1.66" fill="url(#gO)"/><circle cx="391.93" cy="95.03" r="1.66" fill="url(#gO)"/><circle cx="408.43" cy="95.03" r="1.66" fill="url(#gO)"/><circle cx="367.17" cy="90.37" r="1.66" fill="url(#gO)"/><circle cx="383.67" cy="90.37" r="1.66" fill="url(#gO)"/><circle cx="400.17" cy="90.37" r="1.66" fill="url(#gO)"/><circle cx="375.47" cy="104.37" r="1.66" fill="url(#gO)"/><circle cx="391.97" cy="104.37" r="1.66" fill="url(#gO)"/><circle cx="408.47" cy="104.37" r="1.66" fill="url(#gO)"/><circle cx="367.20" cy="109.93" r="1.66" fill="url(#gO)"/><circle cx="383.70" cy="109.93" r="1.66" fill="url(#gO)"/><circle cx="400.20" cy="109.93" r="1.66" fill="url(#gO)"/><circle cx="359.44" cy="96.73" r="1.66" fill="url(#gO)"/><circle cx="359.44" cy="105.64" r="1.66" fill="url(#gO)"/><circle cx="416.65" cy="90.16" r="1.66" fill="url(#gO)"/><circle cx="375.73" cy="76.62" r="1.66" fill="url(#gO)"/><circle cx="383.65" cy="82.40" r="1.66" fill="url(#gO)"/><circle cx="392.23" cy="76.62" r="1.66" fill="url(#gO)"/><circle cx="408.73" cy="76.62" r="1.66" fill="url(#gO)"/><circle cx="367.20" cy="99.70" r="2.87" fill="url(#gNi)"/><circle cx="375.40" cy="85.70" r="2.87" fill="url(#gNi)"/><circle cx="383.70" cy="99.70" r="2.75" fill="url(#gCr)"/><circle cx="391.90" cy="85.70" r="2.75" fill="url(#gFe)"/><circle cx="400.20" cy="99.70" r="2.87" fill="url(#gNi)"/><circle cx="408.40" cy="85.70" r="2.87" fill="url(#gNi)"/><circle cx="377.38" cy="74.48" r="1.14" fill="#fbf0f0" stroke="#e2a8a8" stroke-width="0.6"/><circle cx="383.65" cy="79.10" r="1.14" fill="#fbf0f0" stroke="#e2a8a8" stroke-width="0.6"/><circle cx="393.88" cy="74.48" r="1.14" fill="#fbf0f0" stroke="#e2a8a8" stroke-width="0.6"/><circle cx="410.38" cy="74.48" r="1.14" fill="#fbf0f0" stroke="#e2a8a8" stroke-width="0.6"/></g>
<g><line x1="416.60" y1="164.90" x2="420.53" y2="162.84" stroke="#8a8af0" stroke-width="1.33"/><line x1="420.53" y1="162.84" x2="424.47" y2="160.78" stroke="#e82222" stroke-width="1.33"/><line x1="416.60" y1="164.90" x2="416.67" y2="160.66" stroke="#8a8af0" stroke-width="1.33"/><line x1="416.67" y1="160.66" x2="416.73" y2="156.42" stroke="#e82222" stroke-width="1.33"/><line x1="416.60" y1="164.90" x2="420.47" y2="167.08" stroke="#8a8af0" stroke-width="1.33"/><line x1="420.47" y1="167.08" x2="424.33" y2="169.27" stroke="#e82222" stroke-width="1.33"/><line x1="416.60" y1="164.90" x2="416.60" y2="169.74" stroke="#8a8af0" stroke-width="1.33"/><line x1="416.60" y1="169.74" x2="416.60" y2="174.57" stroke="#e82222" stroke-width="1.33"/><line x1="416.60" y1="164.90" x2="412.93" y2="163.50" stroke="#8a8af0" stroke-width="1.33"/><line x1="412.93" y1="163.50" x2="409.27" y2="162.09" stroke="#e82222" stroke-width="1.33"/><line x1="416.60" y1="164.90" x2="412.93" y2="167.71" stroke="#8a8af0" stroke-width="1.33"/><line x1="412.93" y1="167.71" x2="409.27" y2="170.52" stroke="#e82222" stroke-width="1.33"/><line x1="423.80" y1="148.80" x2="420.27" y2="152.61" stroke="#8a8af0" stroke-width="1.33"/><line x1="420.27" y1="152.61" x2="416.73" y2="156.42" stroke="#e82222" stroke-width="1.33"/><line x1="423.80" y1="148.80" x2="426.85" y2="145.50" stroke="#8a8af0" stroke-width="1.33"/><line x1="426.85" y1="145.50" x2="429.90" y2="142.20" stroke="#e82222" stroke-width="1.33"/><line x1="432.20" y1="165.15" x2="428.33" y2="162.97" stroke="#1a8a8a" stroke-width="1.33"/><line x1="428.33" y1="162.97" x2="424.47" y2="160.78" stroke="#e82222" stroke-width="1.33"/><line x1="432.20" y1="165.15" x2="436.13" y2="163.09" stroke="#1a8a8a" stroke-width="1.33"/><line x1="436.13" y1="163.09" x2="440.07" y2="161.03" stroke="#e82222" stroke-width="1.33"/><line x1="432.20" y1="165.15" x2="432.27" y2="160.91" stroke="#1a8a8a" stroke-width="1.33"/><line x1="432.27" y1="160.91" x2="432.33" y2="156.67" stroke="#e82222" stroke-width="1.33"/><line x1="432.20" y1="165.15" x2="428.27" y2="167.21" stroke="#1a8a8a" stroke-width="1.33"/><line x1="428.27" y1="167.21" x2="424.33" y2="169.27" stroke="#e82222" stroke-width="1.33"/><line x1="432.20" y1="165.15" x2="436.07" y2="167.33" stroke="#1a8a8a" stroke-width="1.33"/><line x1="436.07" y1="167.33" x2="439.93" y2="169.52" stroke="#e82222" stroke-width="1.33"/><line x1="432.20" y1="165.15" x2="432.20" y2="169.99" stroke="#1a8a8a" stroke-width="1.33"/><line x1="432.20" y1="169.99" x2="432.20" y2="174.82" stroke="#e82222" stroke-width="1.33"/><line x1="440.20" y1="152.55" x2="440.13" y2="156.79" stroke="#c89028" stroke-width="1.33"/><line x1="440.13" y1="156.79" x2="440.07" y2="161.03" stroke="#e82222" stroke-width="1.33"/><line x1="440.20" y1="152.55" x2="436.27" y2="154.61" stroke="#c89028" stroke-width="1.33"/><line x1="436.27" y1="154.61" x2="432.33" y2="156.67" stroke="#e82222" stroke-width="1.33"/><line x1="440.20" y1="152.55" x2="444.10" y2="151.05" stroke="#c89028" stroke-width="1.33"/><line x1="444.10" y1="151.05" x2="448.00" y2="149.55" stroke="#e82222" stroke-width="1.33"/><line x1="440.20" y1="152.55" x2="437.60" y2="149.03" stroke="#c89028" stroke-width="1.33"/><line x1="437.60" y1="149.03" x2="435.00" y2="145.50" stroke="#e82222" stroke-width="1.33"/><line x1="447.80" y1="165.40" x2="443.93" y2="163.22" stroke="#8a8af0" stroke-width="1.33"/><line x1="443.93" y1="163.22" x2="440.07" y2="161.03" stroke="#e82222" stroke-width="1.33"/><line x1="447.80" y1="165.40" x2="451.73" y2="163.34" stroke="#8a8af0" stroke-width="1.33"/><line x1="451.73" y1="163.34" x2="455.67" y2="161.28" stroke="#e82222" stroke-width="1.33"/><line x1="447.80" y1="165.40" x2="443.87" y2="167.46" stroke="#8a8af0" stroke-width="1.33"/><line x1="443.87" y1="167.46" x2="439.93" y2="169.52" stroke="#e82222" stroke-width="1.33"/><line x1="447.80" y1="165.40" x2="451.67" y2="167.58" stroke="#8a8af0" stroke-width="1.33"/><line x1="451.67" y1="167.58" x2="455.53" y2="169.77" stroke="#e82222" stroke-width="1.33"/><line x1="447.80" y1="165.40" x2="447.80" y2="170.24" stroke="#8a8af0" stroke-width="1.33"/><line x1="447.80" y1="170.24" x2="447.80" y2="175.07" stroke="#e82222" stroke-width="1.33"/><line x1="455.80" y1="152.80" x2="455.73" y2="157.04" stroke="#8a8af0" stroke-width="1.33"/><line x1="455.73" y1="157.04" x2="455.67" y2="161.28" stroke="#e82222" stroke-width="1.33"/><line x1="455.80" y1="152.80" x2="459.70" y2="154.91" stroke="#8a8af0" stroke-width="1.33"/><line x1="459.70" y1="154.91" x2="463.60" y2="157.01" stroke="#e82222" stroke-width="1.33"/><line x1="455.80" y1="152.80" x2="451.90" y2="151.18" stroke="#8a8af0" stroke-width="1.33"/><line x1="451.90" y1="151.18" x2="448.00" y2="149.55" stroke="#e82222" stroke-width="1.33"/><line x1="455.80" y1="152.80" x2="455.96" y2="148.51" stroke="#8a8af0" stroke-width="1.33"/><line x1="455.96" y1="148.51" x2="456.11" y2="144.22" stroke="#e82222" stroke-width="1.33"/><line x1="429.90" y1="142.20" x2="435.00" y2="145.50" stroke="#e82222" stroke-width="1.33"/><circle cx="424.47" cy="160.78" r="1.66" fill="url(#gO)"/><circle cx="440.07" cy="161.03" r="1.66" fill="url(#gO)"/><circle cx="455.67" cy="161.28" r="1.66" fill="url(#gO)"/><circle cx="416.73" cy="156.42" r="1.66" fill="url(#gO)"/><circle cx="432.33" cy="156.67" r="1.66" fill="url(#gO)"/><circle cx="424.33" cy="169.27" r="1.66" fill="url(#gO)"/><circle cx="439.93" cy="169.52" r="1.66" fill="url(#gO)"/><circle cx="455.53" cy="169.77" r="1.66" fill="url(#gO)"/><circle cx="416.60" cy="174.57" r="1.66" fill="url(#gO)"/><circle cx="432.20" cy="174.82" r="1.66" fill="url(#gO)"/><circle cx="447.80" cy="175.07" r="1.66" fill="url(#gO)"/><circle cx="409.27" cy="162.09" r="1.66" fill="url(#gO)"/><circle cx="409.27" cy="170.52" r="1.66" fill="url(#gO)"/><circle cx="463.60" cy="157.01" r="1.66" fill="url(#gO)"/><circle cx="448.00" cy="149.55" r="1.66" fill="url(#gO)"/><circle cx="456.11" cy="144.22" r="1.66" fill="url(#gO)"/><circle cx="429.90" cy="142.20" r="1.66" fill="url(#gO)"/><circle cx="435.00" cy="145.50" r="1.66" fill="url(#gO)"/><circle cx="416.60" cy="164.90" r="2.87" fill="url(#gNi)"/><circle cx="423.80" cy="148.80" r="2.87" fill="url(#gNi)"/><circle cx="432.20" cy="165.15" r="2.75" fill="url(#gCr)"/><circle cx="440.20" cy="152.55" r="2.75" fill="url(#gFe)"/><circle cx="447.80" cy="165.40" r="2.87" fill="url(#gNi)"/><circle cx="455.80" cy="152.80" r="2.87" fill="url(#gNi)"/><circle cx="457.67" cy="142.19" r="1.14" fill="#fbf0f0" stroke="#e2a8a8" stroke-width="0.6"/></g>
<text x="-1.00" y="265.80" font-size="15" fill="#000" font-weight="bold" stroke="#000">b</text>
<rect x="33.60" y="266.20" width="470.00" height="160.00" fill="none" stroke="#444" stroke-width="1" />
<line x1="29.40" y1="415.20" x2="33.60" y2="415.20" stroke="#444" stroke-width="1" />
<text x="25.00" y="419.20" font-size="11" text-anchor="end" stroke="#1a1a1a">0</text>
<line x1="29.40" y1="387.60" x2="33.60" y2="387.60" stroke="#444" stroke-width="1" />
<text x="25.00" y="391.60" font-size="11" text-anchor="end" stroke="#1a1a1a">1</text>
<line x1="29.40" y1="360.00" x2="33.60" y2="360.00" stroke="#444" stroke-width="1" />
<text x="25.00" y="364.00" font-size="11" text-anchor="end" stroke="#1a1a1a">2</text>
<line x1="29.40" y1="332.40" x2="33.60" y2="332.40" stroke="#444" stroke-width="1" />
<text x="25.00" y="336.40" font-size="11" text-anchor="end" stroke="#1a1a1a">3</text>
<line x1="29.40" y1="304.80" x2="33.60" y2="304.80" stroke="#444" stroke-width="1" />
<text x="25.00" y="308.80" font-size="11" text-anchor="end" stroke="#1a1a1a">4</text>
<line x1="29.40" y1="277.20" x2="33.60" y2="277.20" stroke="#444" stroke-width="1" />
<text x="25.00" y="281.20" font-size="11" text-anchor="end" stroke="#1a1a1a">5</text>
<line x1="31.00" y1="401.40" x2="33.60" y2="401.40" stroke="#444" stroke-width="1" />
<line x1="31.00" y1="373.80" x2="33.60" y2="373.80" stroke="#444" stroke-width="1" />
<line x1="31.00" y1="346.20" x2="33.60" y2="346.20" stroke="#444" stroke-width="1" />
<line x1="31.00" y1="318.60" x2="33.60" y2="318.60" stroke="#444" stroke-width="1" />
<line x1="31.00" y1="291.00" x2="33.60" y2="291.00" stroke="#444" stroke-width="1" />
<text x="11.20" y="346.00" font-size="11" text-anchor="middle" transform="rotate(-90 11.20 346.00)" stroke="#1a1a1a">Free energy (eV)</text>
<line x1="50.30" y1="415.70" x2="93.00" y2="415.70" stroke="#111" stroke-width="1.6" />
<line x1="124.20" y1="375.30" x2="176.80" y2="375.30" stroke="#111" stroke-width="1.6" />
<line x1="202.30" y1="357.20" x2="254.30" y2="357.20" stroke="#111" stroke-width="1.6" />
<line x1="282.10" y1="341.60" x2="333.70" y2="341.60" stroke="#111" stroke-width="1.6" />
<line x1="360.90" y1="303.30" x2="413.20" y2="303.30" stroke="#111" stroke-width="1.6" />
<line x1="438.60" y1="279.20" x2="490.70" y2="279.20" stroke="#111" stroke-width="1.6" />
<line x1="93.00" y1="415.70" x2="124.20" y2="375.30" stroke="#ff2a2a" stroke-width="1.2" stroke-dasharray="2.6,1.8"/>
<line x1="176.80" y1="375.30" x2="202.30" y2="357.20" stroke="#333" stroke-width="0.9" stroke-dasharray="2.6,1.8"/>
<line x1="254.30" y1="357.20" x2="282.10" y2="341.60" stroke="#333" stroke-width="0.9" stroke-dasharray="2.6,1.8"/>
<line x1="333.70" y1="341.60" x2="360.90" y2="303.30" stroke="#333" stroke-width="0.9" stroke-dasharray="2.6,1.8"/>
<line x1="413.20" y1="303.30" x2="438.60" y2="279.20" stroke="#333" stroke-width="0.9" stroke-dasharray="2.6,1.8"/>
<line x1="72.20" y1="426.20" x2="72.20" y2="429.20" stroke="#444" stroke-width="1" />
<line x1="150.60" y1="426.20" x2="150.60" y2="429.20" stroke="#444" stroke-width="1" />
<line x1="229.00" y1="426.20" x2="229.00" y2="429.20" stroke="#444" stroke-width="1" />
<line x1="307.50" y1="426.20" x2="307.50" y2="429.20" stroke="#444" stroke-width="1" />
<line x1="385.90" y1="426.20" x2="385.90" y2="429.20" stroke="#444" stroke-width="1" />
<line x1="464.50" y1="426.20" x2="464.50" y2="429.20" stroke="#444" stroke-width="1" />
<text x="89.70" y="440.00" font-size="11" text-anchor="end" transform="rotate(-20 89.70 440.00)" stroke="#1a1a1a">Fe<tspan dy="-3.5" font-size="8">*</tspan><tspan dy="3.5"> + Ni</tspan><tspan dy="-3.5" font-size="8">*</tspan></text>
<text x="166.10" y="440.00" font-size="11" text-anchor="end" transform="rotate(-20 166.10 440.00)" stroke="#1a1a1a">Fe<tspan dy="-3.5" font-size="8">*</tspan><tspan dy="3.5"> + Ni-</tspan><tspan dy="-3.5" font-size="8">*</tspan><tspan dy="3.5">OH</tspan></text>
<text x="245.50" y="440.00" font-size="11" text-anchor="end" transform="rotate(-20 245.50 440.00)" stroke="#1a1a1a">Fe-<tspan dy="-3.5" font-size="8">*</tspan><tspan dy="3.5">OH + Ni-</tspan><tspan dy="-3.5" font-size="8">*</tspan><tspan dy="3.5">OH</tspan></text>
<text x="324.00" y="440.00" font-size="11" text-anchor="end" transform="rotate(-20 324.00 440.00)" stroke="#1a1a1a">Fe-<tspan dy="-3.5" font-size="8">*</tspan><tspan dy="3.5">O + Ni-</tspan><tspan dy="-3.5" font-size="8">*</tspan><tspan dy="3.5">OH</tspan></text>
<text x="402.40" y="440.00" font-size="11" text-anchor="end" transform="rotate(-20 402.40 440.00)" stroke="#1a1a1a">Fe-<tspan dy="-3.5" font-size="8">*</tspan><tspan dy="3.5">OO</tspan><tspan dy="-3.5" font-size="8">*</tspan><tspan dy="3.5">-Ni</tspan></text>
<text x="483.00" y="440.00" font-size="11" text-anchor="end" transform="rotate(-20 483.00 440.00)" stroke="#1a1a1a">Fe<tspan dy="-3.5" font-size="8">*</tspan><tspan dy="3.5"> + Ni</tspan><tspan dy="-3.5" font-size="8">*</tspan><tspan dy="3.5"> + O</tspan><tspan dy="2.5" font-size="8">2</tspan></text>
<text x="114.80" y="396.90" font-size="11" fill="#f26a35" stroke="#f26a35">+1.43 eV</text>
<text x="123.10" y="409.40" font-size="11" fill="#f26a35" stroke="#f26a35">(RLS)</text>
<text x="192.80" y="374.00" font-size="11" stroke="#1a1a1a">+0.67 eV</text>
<text x="271.40" y="357.30" font-size="11" stroke="#1a1a1a">+0.55 eV</text>
<text x="325.00" y="389.40" font-size="11" stroke="#1a1a1a">+1.36 eV</text>
<text x="380.00" y="292.40" font-size="11" stroke="#1a1a1a">+0.91 eV</text>
<line x1="331.00" y1="378.60" x2="334.00" y2="378.60" stroke="#222" stroke-width="0.8" />
<line x1="346.00" y1="324.50" x2="346.00" y2="373.00" stroke="#333" stroke-width="0.9" />
<path d="M343.9,372 L346,377.2 L348.1,372 Z" fill="#222"/>
<circle cx="297.80" cy="411.80" r="5.10" fill="url(#gLNi)" />
<text x="306.70" y="416.00" font-size="11" stroke="#1a1a1a">Ni</text>
<circle cx="334.80" cy="411.80" r="5.10" fill="url(#gLFe)" />
<text x="343.60" y="416.00" font-size="11" stroke="#1a1a1a">Fe</text>
<circle cx="373.00" cy="411.80" r="5.10" fill="url(#gLCo)" />
<text x="381.80" y="416.00" font-size="11" stroke="#1a1a1a">Co</text>
<circle cx="411.50" cy="411.80" r="5.10" fill="url(#gLCr)" />
<text x="418.90" y="416.00" font-size="11" stroke="#1a1a1a">Cr</text>
<circle cx="449.20" cy="411.80" r="4.40" fill="url(#gLO)" />
<text x="455.70" y="416.00" font-size="11" stroke="#1a1a1a">O</text>
<circle cx="483.00" cy="411.80" r="1.90" fill="#fff" stroke="#e0a0a0" stroke-width="0.7" />
<text x="486.90" y="416.00" font-size="11" stroke="#1a1a1a">H</text>
<g><line x1="53.30" y1="399.10" x2="57.27" y2="397.22" stroke="#1a8a8a" stroke-width="1.40"/><line x1="57.27" y1="397.22" x2="61.23" y2="395.33" stroke="#e82222" stroke-width="1.40"/><line x1="53.30" y1="399.10" x2="53.18" y2="395.08" stroke="#1a8a8a" stroke-width="1.40"/><line x1="53.18" y1="395.08" x2="53.07" y2="391.07" stroke="#e82222" stroke-width="1.40"/><line x1="53.30" y1="399.10" x2="57.38" y2="401.23" stroke="#1a8a8a" stroke-width="1.40"/><line x1="57.38" y1="401.23" x2="61.47" y2="403.37" stroke="#e82222" stroke-width="1.40"/><line x1="53.30" y1="399.10" x2="53.30" y2="404.09" stroke="#1a8a8a" stroke-width="1.40"/><line x1="53.30" y1="404.09" x2="53.30" y2="409.09" stroke="#e82222" stroke-width="1.40"/><line x1="53.30" y1="399.10" x2="49.51" y2="397.65" stroke="#1a8a8a" stroke-width="1.40"/><line x1="49.51" y1="397.65" x2="45.73" y2="396.20" stroke="#e82222" stroke-width="1.40"/><line x1="53.30" y1="399.10" x2="49.51" y2="402.00" stroke="#1a8a8a" stroke-width="1.40"/><line x1="49.51" y1="402.00" x2="45.73" y2="404.90" stroke="#e82222" stroke-width="1.40"/><line x1="61.00" y1="387.30" x2="61.12" y2="391.32" stroke="#c89028" stroke-width="1.40"/><line x1="61.12" y1="391.32" x2="61.23" y2="395.33" stroke="#e82222" stroke-width="1.40"/><line x1="61.00" y1="387.30" x2="57.03" y2="389.18" stroke="#c89028" stroke-width="1.40"/><line x1="57.03" y1="389.18" x2="53.07" y2="391.07" stroke="#e82222" stroke-width="1.40"/><line x1="61.00" y1="387.30" x2="64.58" y2="383.62" stroke="#c89028" stroke-width="1.40"/><line x1="64.58" y1="383.62" x2="68.15" y2="379.93" stroke="#e82222" stroke-width="1.40"/><line x1="69.40" y1="399.60" x2="65.32" y2="397.47" stroke="#8a8af0" stroke-width="1.40"/><line x1="65.32" y1="397.47" x2="61.23" y2="395.33" stroke="#e82222" stroke-width="1.40"/><line x1="69.40" y1="399.60" x2="73.07" y2="397.43" stroke="#8a8af0" stroke-width="1.40"/><line x1="73.07" y1="397.43" x2="76.73" y2="395.27" stroke="#e82222" stroke-width="1.40"/><line x1="69.40" y1="399.60" x2="65.43" y2="401.48" stroke="#8a8af0" stroke-width="1.40"/><line x1="65.43" y1="401.48" x2="61.47" y2="403.37" stroke="#e82222" stroke-width="1.40"/><line x1="69.40" y1="399.60" x2="73.48" y2="401.73" stroke="#8a8af0" stroke-width="1.40"/><line x1="73.48" y1="401.73" x2="77.57" y2="403.87" stroke="#e82222" stroke-width="1.40"/><line x1="69.40" y1="399.60" x2="69.40" y2="404.59" stroke="#8a8af0" stroke-width="1.40"/><line x1="69.40" y1="404.59" x2="69.40" y2="409.59" stroke="#e82222" stroke-width="1.40"/><line x1="75.30" y1="386.10" x2="76.02" y2="390.68" stroke="#8a8af0" stroke-width="1.40"/><line x1="76.02" y1="390.68" x2="76.73" y2="395.27" stroke="#e82222" stroke-width="1.40"/><line x1="75.30" y1="386.10" x2="79.98" y2="388.38" stroke="#8a8af0" stroke-width="1.40"/><line x1="79.98" y1="388.38" x2="84.67" y2="390.67" stroke="#e82222" stroke-width="1.40"/><line x1="75.30" y1="386.10" x2="71.73" y2="383.02" stroke="#8a8af0" stroke-width="1.40"/><line x1="71.73" y1="383.02" x2="68.15" y2="379.93" stroke="#e82222" stroke-width="1.40"/><line x1="75.30" y1="386.10" x2="79.78" y2="384.41" stroke="#8a8af0" stroke-width="1.40"/><line x1="79.78" y1="384.41" x2="84.25" y2="382.73" stroke="#e82222" stroke-width="1.40"/><line x1="85.50" y1="400.10" x2="81.12" y2="397.68" stroke="#8a8af0" stroke-width="1.40"/><line x1="81.12" y1="397.68" x2="76.73" y2="395.27" stroke="#e82222" stroke-width="1.40"/><line x1="85.50" y1="400.10" x2="89.47" y2="397.80" stroke="#8a8af0" stroke-width="1.40"/><line x1="89.47" y1="397.80" x2="93.43" y2="395.50" stroke="#e82222" stroke-width="1.40"/><line x1="85.50" y1="400.10" x2="85.08" y2="395.38" stroke="#8a8af0" stroke-width="1.40"/><line x1="85.08" y1="395.38" x2="84.67" y2="390.67" stroke="#e82222" stroke-width="1.40"/><line x1="85.50" y1="400.10" x2="81.53" y2="401.98" stroke="#8a8af0" stroke-width="1.40"/><line x1="81.53" y1="401.98" x2="77.57" y2="403.87" stroke="#e82222" stroke-width="1.40"/><line x1="85.50" y1="400.10" x2="89.58" y2="402.23" stroke="#8a8af0" stroke-width="1.40"/><line x1="89.58" y1="402.23" x2="93.67" y2="404.37" stroke="#e82222" stroke-width="1.40"/><line x1="85.50" y1="400.10" x2="85.50" y2="405.09" stroke="#8a8af0" stroke-width="1.40"/><line x1="85.50" y1="405.09" x2="85.50" y2="410.09" stroke="#e82222" stroke-width="1.40"/><line x1="93.20" y1="385.80" x2="93.32" y2="390.65" stroke="#1818b0" stroke-width="1.40"/><line x1="93.32" y1="390.65" x2="93.43" y2="395.50" stroke="#e82222" stroke-width="1.40"/><line x1="93.20" y1="385.80" x2="88.93" y2="388.23" stroke="#1818b0" stroke-width="1.40"/><line x1="88.93" y1="388.23" x2="84.67" y2="390.67" stroke="#e82222" stroke-width="1.40"/><line x1="93.20" y1="385.80" x2="97.23" y2="387.97" stroke="#1818b0" stroke-width="1.40"/><line x1="97.23" y1="387.97" x2="101.25" y2="390.15" stroke="#e82222" stroke-width="1.40"/><line x1="93.20" y1="385.80" x2="88.72" y2="384.26" stroke="#1818b0" stroke-width="1.40"/><line x1="88.72" y1="384.26" x2="84.25" y2="382.73" stroke="#e82222" stroke-width="1.40"/><line x1="93.20" y1="385.80" x2="93.36" y2="381.37" stroke="#1818b0" stroke-width="1.40"/><line x1="93.36" y1="381.37" x2="93.52" y2="376.94" stroke="#e82222" stroke-width="1.40"/><circle cx="61.23" cy="395.33" r="1.75" fill="url(#gO)"/><circle cx="76.73" cy="395.27" r="1.75" fill="url(#gO)"/><circle cx="93.43" cy="395.50" r="1.75" fill="url(#gO)"/><circle cx="53.07" cy="391.07" r="1.75" fill="url(#gO)"/><circle cx="84.67" cy="390.67" r="1.75" fill="url(#gO)"/><circle cx="61.47" cy="403.37" r="1.75" fill="url(#gO)"/><circle cx="77.57" cy="403.87" r="1.75" fill="url(#gO)"/><circle cx="93.67" cy="404.37" r="1.75" fill="url(#gO)"/><circle cx="53.30" cy="409.09" r="1.75" fill="url(#gO)"/><circle cx="69.40" cy="409.59" r="1.75" fill="url(#gO)"/><circle cx="85.50" cy="410.09" r="1.75" fill="url(#gO)"/><circle cx="45.73" cy="396.20" r="1.75" fill="url(#gO)"/><circle cx="45.73" cy="404.90" r="1.75" fill="url(#gO)"/><circle cx="101.25" cy="390.15" r="1.75" fill="url(#gO)"/><circle cx="68.15" cy="379.93" r="1.75" fill="url(#gO)"/><circle cx="84.25" cy="382.73" r="1.75" fill="url(#gO)"/><circle cx="93.52" cy="376.94" r="1.75" fill="url(#gO)"/><circle cx="53.30" cy="399.10" r="2.90" fill="url(#gCr)"/><circle cx="61.00" cy="387.30" r="2.90" fill="url(#gFe)"/><circle cx="69.40" cy="399.60" r="3.02" fill="url(#gNi)"/><circle cx="75.30" cy="386.10" r="3.02" fill="url(#gNi)"/><circle cx="85.50" cy="400.10" r="3.02" fill="url(#gNi)"/><circle cx="93.20" cy="385.80" r="2.90" fill="url(#gCo)"/><circle cx="84.25" cy="379.51" r="1.20" fill="#fbf0f0" stroke="#e2a8a8" stroke-width="0.6"/><circle cx="95.13" cy="374.85" r="1.20" fill="#fbf0f0" stroke="#e2a8a8" stroke-width="0.6"/></g>
<g><line x1="131.90" y1="358.00" x2="136.07" y2="356.07" stroke="#1a8a8a" stroke-width="1.40"/><line x1="136.07" y1="356.07" x2="140.23" y2="354.13" stroke="#e82222" stroke-width="1.40"/><line x1="131.90" y1="358.00" x2="131.88" y2="354.03" stroke="#1a8a8a" stroke-width="1.40"/><line x1="131.88" y1="354.03" x2="131.87" y2="350.07" stroke="#e82222" stroke-width="1.40"/><line x1="131.90" y1="358.00" x2="136.08" y2="360.03" stroke="#1a8a8a" stroke-width="1.40"/><line x1="136.08" y1="360.03" x2="140.27" y2="362.07" stroke="#e82222" stroke-width="1.40"/><line x1="131.90" y1="358.00" x2="131.90" y2="363.18" stroke="#1a8a8a" stroke-width="1.40"/><line x1="131.90" y1="363.18" x2="131.90" y2="368.35" stroke="#e82222" stroke-width="1.40"/><line x1="131.90" y1="358.00" x2="127.98" y2="356.50" stroke="#1a8a8a" stroke-width="1.40"/><line x1="127.98" y1="356.50" x2="124.05" y2="354.99" stroke="#e82222" stroke-width="1.40"/><line x1="131.90" y1="358.00" x2="127.98" y2="361.01" stroke="#1a8a8a" stroke-width="1.40"/><line x1="127.98" y1="361.01" x2="124.05" y2="364.01" stroke="#e82222" stroke-width="1.40"/><line x1="140.20" y1="346.20" x2="140.22" y2="350.17" stroke="#c89028" stroke-width="1.40"/><line x1="140.22" y1="350.17" x2="140.23" y2="354.13" stroke="#e82222" stroke-width="1.40"/><line x1="140.20" y1="346.20" x2="136.03" y2="348.13" stroke="#c89028" stroke-width="1.40"/><line x1="136.03" y1="348.13" x2="131.87" y2="350.07" stroke="#e82222" stroke-width="1.40"/><line x1="140.20" y1="346.20" x2="143.98" y2="343.65" stroke="#c89028" stroke-width="1.40"/><line x1="143.98" y1="343.65" x2="147.75" y2="341.11" stroke="#e82222" stroke-width="1.40"/><line x1="148.60" y1="358.20" x2="144.42" y2="356.17" stroke="#8a8af0" stroke-width="1.40"/><line x1="144.42" y1="356.17" x2="140.23" y2="354.13" stroke="#e82222" stroke-width="1.40"/><line x1="148.60" y1="358.20" x2="152.50" y2="355.65" stroke="#8a8af0" stroke-width="1.40"/><line x1="152.50" y1="355.65" x2="156.40" y2="353.10" stroke="#e82222" stroke-width="1.40"/><line x1="148.60" y1="358.20" x2="144.43" y2="360.13" stroke="#8a8af0" stroke-width="1.40"/><line x1="144.43" y1="360.13" x2="140.27" y2="362.07" stroke="#e82222" stroke-width="1.40"/><line x1="148.60" y1="358.20" x2="152.78" y2="360.23" stroke="#8a8af0" stroke-width="1.40"/><line x1="152.78" y1="360.23" x2="156.97" y2="362.27" stroke="#e82222" stroke-width="1.40"/><line x1="148.60" y1="358.20" x2="148.60" y2="363.38" stroke="#8a8af0" stroke-width="1.40"/><line x1="148.60" y1="363.38" x2="148.60" y2="368.55" stroke="#e82222" stroke-width="1.40"/><line x1="155.30" y1="342.70" x2="155.85" y2="347.90" stroke="#8a8af0" stroke-width="1.40"/><line x1="155.85" y1="347.90" x2="156.40" y2="353.10" stroke="#e82222" stroke-width="1.40"/><line x1="155.30" y1="342.70" x2="160.02" y2="345.60" stroke="#8a8af0" stroke-width="1.40"/><line x1="160.02" y1="345.60" x2="164.73" y2="348.50" stroke="#e82222" stroke-width="1.40"/><line x1="155.30" y1="342.70" x2="151.53" y2="341.90" stroke="#8a8af0" stroke-width="1.40"/><line x1="151.53" y1="341.90" x2="147.75" y2="341.11" stroke="#e82222" stroke-width="1.40"/><line x1="155.30" y1="342.70" x2="155.47" y2="338.11" stroke="#8a8af0" stroke-width="1.40"/><line x1="155.47" y1="338.11" x2="155.63" y2="333.51" stroke="#e82222" stroke-width="1.40"/><line x1="155.30" y1="342.70" x2="159.88" y2="341.45" stroke="#8a8af0" stroke-width="1.40"/><line x1="159.88" y1="341.45" x2="164.45" y2="340.21" stroke="#e82222" stroke-width="1.40"/><line x1="165.30" y1="358.40" x2="160.85" y2="355.75" stroke="#8a8af0" stroke-width="1.40"/><line x1="160.85" y1="355.75" x2="156.40" y2="353.10" stroke="#e82222" stroke-width="1.40"/><line x1="165.30" y1="358.40" x2="169.47" y2="356.10" stroke="#8a8af0" stroke-width="1.40"/><line x1="169.47" y1="356.10" x2="173.63" y2="353.80" stroke="#e82222" stroke-width="1.40"/><line x1="165.30" y1="358.40" x2="165.02" y2="353.45" stroke="#8a8af0" stroke-width="1.40"/><line x1="165.02" y1="353.45" x2="164.73" y2="348.50" stroke="#e82222" stroke-width="1.40"/><line x1="165.30" y1="358.40" x2="161.13" y2="360.33" stroke="#8a8af0" stroke-width="1.40"/><line x1="161.13" y1="360.33" x2="156.97" y2="362.27" stroke="#e82222" stroke-width="1.40"/><line x1="165.30" y1="358.40" x2="169.48" y2="360.43" stroke="#8a8af0" stroke-width="1.40"/><line x1="169.48" y1="360.43" x2="173.67" y2="362.47" stroke="#e82222" stroke-width="1.40"/><line x1="165.30" y1="358.40" x2="165.30" y2="363.58" stroke="#8a8af0" stroke-width="1.40"/><line x1="165.30" y1="363.58" x2="165.30" y2="368.75" stroke="#e82222" stroke-width="1.40"/><line x1="173.60" y1="344.40" x2="173.62" y2="349.10" stroke="#1818b0" stroke-width="1.40"/><line x1="173.62" y1="349.10" x2="173.63" y2="353.80" stroke="#e82222" stroke-width="1.40"/><line x1="173.60" y1="344.40" x2="169.17" y2="346.45" stroke="#1818b0" stroke-width="1.40"/><line x1="169.17" y1="346.45" x2="164.73" y2="348.50" stroke="#e82222" stroke-width="1.40"/><line x1="173.60" y1="344.40" x2="177.78" y2="346.65" stroke="#1818b0" stroke-width="1.40"/><line x1="177.78" y1="346.65" x2="181.95" y2="348.91" stroke="#e82222" stroke-width="1.40"/><line x1="173.60" y1="344.40" x2="169.03" y2="342.30" stroke="#1818b0" stroke-width="1.40"/><line x1="169.03" y1="342.30" x2="164.45" y2="340.21" stroke="#e82222" stroke-width="1.40"/><line x1="173.60" y1="344.40" x2="173.77" y2="339.81" stroke="#1818b0" stroke-width="1.40"/><line x1="173.77" y1="339.81" x2="173.93" y2="335.21" stroke="#e82222" stroke-width="1.40"/><circle cx="140.23" cy="354.13" r="1.75" fill="url(#gO)"/><circle cx="156.40" cy="353.10" r="1.75" fill="url(#gO)"/><circle cx="173.63" cy="353.80" r="1.75" fill="url(#gO)"/><circle cx="131.87" cy="350.07" r="1.75" fill="url(#gO)"/><circle cx="164.73" cy="348.50" r="1.75" fill="url(#gO)"/><circle cx="140.27" cy="362.07" r="1.75" fill="url(#gO)"/><circle cx="156.97" cy="362.27" r="1.75" fill="url(#gO)"/><circle cx="173.67" cy="362.47" r="1.75" fill="url(#gO)"/><circle cx="131.90" cy="368.35" r="1.75" fill="url(#gO)"/><circle cx="148.60" cy="368.55" r="1.75" fill="url(#gO)"/><circle cx="165.30" cy="368.75" r="1.75" fill="url(#gO)"/><circle cx="124.05" cy="354.99" r="1.75" fill="url(#gO)"/><circle cx="124.05" cy="364.01" r="1.75" fill="url(#gO)"/><circle cx="181.95" cy="348.91" r="1.75" fill="url(#gO)"/><circle cx="147.75" cy="341.11" r="1.75" fill="url(#gO)"/><circle cx="155.63" cy="333.51" r="1.75" fill="url(#gO)"/><circle cx="164.45" cy="340.21" r="1.75" fill="url(#gO)"/><circle cx="173.93" cy="335.21" r="1.75" fill="url(#gO)"/><circle cx="131.90" cy="358.00" r="2.90" fill="url(#gCr)"/><circle cx="140.20" cy="346.20" r="2.90" fill="url(#gFe)"/><circle cx="148.60" cy="358.20" r="3.02" fill="url(#gNi)"/><circle cx="155.30" cy="342.70" r="3.02" fill="url(#gNi)"/><circle cx="165.30" cy="358.40" r="3.02" fill="url(#gNi)"/><circle cx="173.60" cy="344.40" r="2.90" fill="url(#gCo)"/><circle cx="157.30" cy="331.34" r="1.20" fill="#fbf0f0" stroke="#e2a8a8" stroke-width="0.6"/><circle cx="164.45" cy="336.87" r="1.20" fill="#fbf0f0" stroke="#e2a8a8" stroke-width="0.6"/><circle cx="175.60" cy="333.04" r="1.20" fill="#fbf0f0" stroke="#e2a8a8" stroke-width="0.6"/></g>
<g><line x1="211.40" y1="340.10" x2="215.83" y2="338.03" stroke="#1a8a8a" stroke-width="1.40"/><line x1="215.83" y1="338.03" x2="220.27" y2="335.97" stroke="#e82222" stroke-width="1.40"/><line x1="211.40" y1="340.10" x2="211.57" y2="335.87" stroke="#1a8a8a" stroke-width="1.40"/><line x1="211.57" y1="335.87" x2="211.73" y2="331.63" stroke="#e82222" stroke-width="1.40"/><line x1="211.40" y1="340.10" x2="215.67" y2="342.27" stroke="#1a8a8a" stroke-width="1.40"/><line x1="215.67" y1="342.27" x2="219.93" y2="344.43" stroke="#e82222" stroke-width="1.40"/><line x1="211.40" y1="340.10" x2="211.40" y2="345.49" stroke="#1a8a8a" stroke-width="1.40"/><line x1="211.40" y1="345.49" x2="211.40" y2="350.89" stroke="#e82222" stroke-width="1.40"/><line x1="211.40" y1="340.10" x2="207.31" y2="338.53" stroke="#1a8a8a" stroke-width="1.40"/><line x1="207.31" y1="338.53" x2="203.22" y2="336.97" stroke="#e82222" stroke-width="1.40"/><line x1="211.40" y1="340.10" x2="207.31" y2="343.23" stroke="#1a8a8a" stroke-width="1.40"/><line x1="207.31" y1="343.23" x2="203.22" y2="346.36" stroke="#e82222" stroke-width="1.40"/><line x1="220.60" y1="327.50" x2="220.43" y2="331.73" stroke="#c89028" stroke-width="1.40"/><line x1="220.43" y1="331.73" x2="220.27" y2="335.97" stroke="#e82222" stroke-width="1.40"/><line x1="220.60" y1="327.50" x2="216.17" y2="329.57" stroke="#c89028" stroke-width="1.40"/><line x1="216.17" y1="329.57" x2="211.73" y2="331.63" stroke="#e82222" stroke-width="1.40"/><line x1="220.60" y1="327.50" x2="220.77" y2="322.71" stroke="#c89028" stroke-width="1.40"/><line x1="220.77" y1="322.71" x2="220.95" y2="317.93" stroke="#e82222" stroke-width="1.40"/><line x1="220.60" y1="327.50" x2="224.43" y2="324.91" stroke="#c89028" stroke-width="1.40"/><line x1="224.43" y1="324.91" x2="228.25" y2="322.32" stroke="#e82222" stroke-width="1.40"/><line x1="228.80" y1="340.30" x2="224.53" y2="338.13" stroke="#8a8af0" stroke-width="1.40"/><line x1="224.53" y1="338.13" x2="220.27" y2="335.97" stroke="#e82222" stroke-width="1.40"/><line x1="228.80" y1="340.30" x2="232.88" y2="337.63" stroke="#8a8af0" stroke-width="1.40"/><line x1="232.88" y1="337.63" x2="236.97" y2="334.97" stroke="#e82222" stroke-width="1.40"/><line x1="228.80" y1="340.30" x2="224.37" y2="342.37" stroke="#8a8af0" stroke-width="1.40"/><line x1="224.37" y1="342.37" x2="219.93" y2="344.43" stroke="#e82222" stroke-width="1.40"/><line x1="228.80" y1="340.30" x2="233.07" y2="342.47" stroke="#8a8af0" stroke-width="1.40"/><line x1="233.07" y1="342.47" x2="237.33" y2="344.63" stroke="#e82222" stroke-width="1.40"/><line x1="228.80" y1="340.30" x2="228.80" y2="345.69" stroke="#8a8af0" stroke-width="1.40"/><line x1="228.80" y1="345.69" x2="228.80" y2="351.09" stroke="#e82222" stroke-width="1.40"/><line x1="235.90" y1="324.10" x2="236.43" y2="329.53" stroke="#8a8af0" stroke-width="1.40"/><line x1="236.43" y1="329.53" x2="236.97" y2="334.97" stroke="#e82222" stroke-width="1.40"/><line x1="235.90" y1="324.10" x2="240.72" y2="327.12" stroke="#8a8af0" stroke-width="1.40"/><line x1="240.72" y1="327.12" x2="245.53" y2="330.13" stroke="#e82222" stroke-width="1.40"/><line x1="235.90" y1="324.10" x2="232.07" y2="323.21" stroke="#8a8af0" stroke-width="1.40"/><line x1="232.07" y1="323.21" x2="228.25" y2="322.32" stroke="#e82222" stroke-width="1.40"/><line x1="235.90" y1="324.10" x2="236.07" y2="319.31" stroke="#8a8af0" stroke-width="1.40"/><line x1="236.07" y1="319.31" x2="236.25" y2="314.53" stroke="#e82222" stroke-width="1.40"/><line x1="235.90" y1="324.10" x2="240.55" y2="322.78" stroke="#8a8af0" stroke-width="1.40"/><line x1="240.55" y1="322.78" x2="245.20" y2="321.47" stroke="#e82222" stroke-width="1.40"/><line x1="246.20" y1="340.50" x2="241.58" y2="337.73" stroke="#8a8af0" stroke-width="1.40"/><line x1="241.58" y1="337.73" x2="236.97" y2="334.97" stroke="#e82222" stroke-width="1.40"/><line x1="246.20" y1="340.50" x2="250.48" y2="338.08" stroke="#8a8af0" stroke-width="1.40"/><line x1="250.48" y1="338.08" x2="254.77" y2="335.67" stroke="#e82222" stroke-width="1.40"/><line x1="246.20" y1="340.50" x2="245.87" y2="335.32" stroke="#8a8af0" stroke-width="1.40"/><line x1="245.87" y1="335.32" x2="245.53" y2="330.13" stroke="#e82222" stroke-width="1.40"/><line x1="246.20" y1="340.50" x2="241.77" y2="342.57" stroke="#8a8af0" stroke-width="1.40"/><line x1="241.77" y1="342.57" x2="237.33" y2="344.63" stroke="#e82222" stroke-width="1.40"/><line x1="246.20" y1="340.50" x2="250.47" y2="342.67" stroke="#8a8af0" stroke-width="1.40"/><line x1="250.47" y1="342.67" x2="254.73" y2="344.83" stroke="#e82222" stroke-width="1.40"/><line x1="246.20" y1="340.50" x2="246.20" y2="345.89" stroke="#8a8af0" stroke-width="1.40"/><line x1="246.20" y1="345.89" x2="246.20" y2="351.29" stroke="#e82222" stroke-width="1.40"/><line x1="254.50" y1="325.80" x2="254.63" y2="330.73" stroke="#1818b0" stroke-width="1.40"/><line x1="254.63" y1="330.73" x2="254.77" y2="335.67" stroke="#e82222" stroke-width="1.40"/><line x1="254.50" y1="325.80" x2="250.02" y2="327.97" stroke="#1818b0" stroke-width="1.40"/><line x1="250.02" y1="327.97" x2="245.53" y2="330.13" stroke="#e82222" stroke-width="1.40"/><line x1="254.50" y1="325.80" x2="258.85" y2="328.15" stroke="#1818b0" stroke-width="1.40"/><line x1="258.85" y1="328.15" x2="263.20" y2="330.50" stroke="#e82222" stroke-width="1.40"/><line x1="254.50" y1="325.80" x2="249.85" y2="323.63" stroke="#1818b0" stroke-width="1.40"/><line x1="249.85" y1="323.63" x2="245.20" y2="321.47" stroke="#e82222" stroke-width="1.40"/><line x1="254.50" y1="325.80" x2="254.67" y2="321.01" stroke="#1818b0" stroke-width="1.40"/><line x1="254.67" y1="321.01" x2="254.85" y2="316.23" stroke="#e82222" stroke-width="1.40"/><circle cx="220.27" cy="335.97" r="1.75" fill="url(#gO)"/><circle cx="236.97" cy="334.97" r="1.75" fill="url(#gO)"/><circle cx="254.77" cy="335.67" r="1.75" fill="url(#gO)"/><circle cx="211.73" cy="331.63" r="1.75" fill="url(#gO)"/><circle cx="245.53" cy="330.13" r="1.75" fill="url(#gO)"/><circle cx="219.93" cy="344.43" r="1.75" fill="url(#gO)"/><circle cx="237.33" cy="344.63" r="1.75" fill="url(#gO)"/><circle cx="254.73" cy="344.83" r="1.75" fill="url(#gO)"/><circle cx="211.40" cy="350.89" r="1.75" fill="url(#gO)"/><circle cx="228.80" cy="351.09" r="1.75" fill="url(#gO)"/><circle cx="246.20" cy="351.29" r="1.75" fill="url(#gO)"/><circle cx="203.22" cy="336.97" r="1.75" fill="url(#gO)"/><circle cx="203.22" cy="346.36" r="1.75" fill="url(#gO)"/><circle cx="263.20" cy="330.50" r="1.75" fill="url(#gO)"/><circle cx="220.95" cy="317.93" r="1.75" fill="url(#gO)"/><circle cx="228.25" cy="322.32" r="1.75" fill="url(#gO)"/><circle cx="236.25" cy="314.53" r="1.75" fill="url(#gO)"/><circle cx="245.20" cy="321.47" r="1.75" fill="url(#gO)"/><circle cx="254.85" cy="316.23" r="1.75" fill="url(#gO)"/><circle cx="211.40" cy="340.10" r="2.90" fill="url(#gCr)"/><circle cx="220.60" cy="327.50" r="2.90" fill="url(#gFe)"/><circle cx="228.80" cy="340.30" r="3.02" fill="url(#gNi)"/><circle cx="235.90" cy="324.10" r="3.02" fill="url(#gNi)"/><circle cx="246.20" cy="340.50" r="3.02" fill="url(#gNi)"/><circle cx="254.50" cy="325.80" r="2.90" fill="url(#gCo)"/><circle cx="222.69" cy="315.67" r="1.20" fill="#fbf0f0" stroke="#e2a8a8" stroke-width="0.6"/><circle cx="237.99" cy="312.27" r="1.20" fill="#fbf0f0" stroke="#e2a8a8" stroke-width="0.6"/><circle cx="245.20" cy="317.99" r="1.20" fill="#fbf0f0" stroke="#e2a8a8" stroke-width="0.6"/><circle cx="256.59" cy="313.97" r="1.20" fill="#fbf0f0" stroke="#e2a8a8" stroke-width="0.6"/></g>
<g><line x1="287.70" y1="325.70" x2="292.10" y2="323.47" stroke="#1a8a8a" stroke-width="1.47"/><line x1="292.10" y1="323.47" x2="296.50" y2="321.23" stroke="#e82222" stroke-width="1.47"/><line x1="287.70" y1="325.70" x2="287.20" y2="321.03" stroke="#1a8a8a" stroke-width="1.47"/><line x1="287.20" y1="321.03" x2="286.70" y2="316.37" stroke="#e82222" stroke-width="1.47"/><line x1="287.70" y1="325.70" x2="292.60" y2="328.13" stroke="#1a8a8a" stroke-width="1.47"/><line x1="292.60" y1="328.13" x2="297.50" y2="330.57" stroke="#e82222" stroke-width="1.47"/><line x1="287.70" y1="325.70" x2="287.70" y2="331.47" stroke="#1a8a8a" stroke-width="1.47"/><line x1="287.70" y1="331.47" x2="287.70" y2="337.23" stroke="#e82222" stroke-width="1.47"/><line x1="287.70" y1="325.70" x2="283.33" y2="324.03" stroke="#1a8a8a" stroke-width="1.47"/><line x1="283.33" y1="324.03" x2="278.96" y2="322.35" stroke="#e82222" stroke-width="1.47"/><line x1="287.70" y1="325.70" x2="283.33" y2="329.05" stroke="#1a8a8a" stroke-width="1.47"/><line x1="283.33" y1="329.05" x2="278.96" y2="332.40" stroke="#e82222" stroke-width="1.47"/><line x1="295.50" y1="311.90" x2="296.00" y2="316.57" stroke="#c89028" stroke-width="1.47"/><line x1="296.00" y1="316.57" x2="296.50" y2="321.23" stroke="#e82222" stroke-width="1.47"/><line x1="295.50" y1="311.90" x2="291.10" y2="314.13" stroke="#c89028" stroke-width="1.47"/><line x1="291.10" y1="314.13" x2="286.70" y2="316.37" stroke="#e82222" stroke-width="1.47"/><line x1="295.50" y1="311.90" x2="300.40" y2="314.33" stroke="#c89028" stroke-width="1.47"/><line x1="300.40" y1="314.33" x2="305.30" y2="316.77" stroke="#e82222" stroke-width="1.47"/><line x1="295.50" y1="311.90" x2="295.69" y2="306.78" stroke="#c89028" stroke-width="1.47"/><line x1="295.69" y1="306.78" x2="295.87" y2="301.67" stroke="#e82222" stroke-width="1.47"/><line x1="306.30" y1="326.10" x2="301.40" y2="323.67" stroke="#8a8af0" stroke-width="1.47"/><line x1="301.40" y1="323.67" x2="296.50" y2="321.23" stroke="#e82222" stroke-width="1.47"/><line x1="306.30" y1="326.10" x2="310.70" y2="323.87" stroke="#8a8af0" stroke-width="1.47"/><line x1="310.70" y1="323.87" x2="315.10" y2="321.63" stroke="#e82222" stroke-width="1.47"/><line x1="306.30" y1="326.10" x2="305.80" y2="321.43" stroke="#8a8af0" stroke-width="1.47"/><line x1="305.80" y1="321.43" x2="305.30" y2="316.77" stroke="#e82222" stroke-width="1.47"/><line x1="306.30" y1="326.10" x2="301.90" y2="328.33" stroke="#8a8af0" stroke-width="1.47"/><line x1="301.90" y1="328.33" x2="297.50" y2="330.57" stroke="#e82222" stroke-width="1.47"/><line x1="306.30" y1="326.10" x2="311.20" y2="328.53" stroke="#8a8af0" stroke-width="1.47"/><line x1="311.20" y1="328.53" x2="316.10" y2="330.97" stroke="#e82222" stroke-width="1.47"/><line x1="306.30" y1="326.10" x2="306.30" y2="331.87" stroke="#8a8af0" stroke-width="1.47"/><line x1="306.30" y1="331.87" x2="306.30" y2="337.63" stroke="#e82222" stroke-width="1.47"/><line x1="314.10" y1="312.30" x2="314.60" y2="316.97" stroke="#8a8af0" stroke-width="1.47"/><line x1="314.60" y1="316.97" x2="315.10" y2="321.63" stroke="#e82222" stroke-width="1.47"/><line x1="314.10" y1="312.30" x2="309.70" y2="314.53" stroke="#8a8af0" stroke-width="1.47"/><line x1="309.70" y1="314.53" x2="305.30" y2="316.77" stroke="#e82222" stroke-width="1.47"/><line x1="314.10" y1="312.30" x2="319.00" y2="314.73" stroke="#8a8af0" stroke-width="1.47"/><line x1="319.00" y1="314.73" x2="323.90" y2="317.17" stroke="#e82222" stroke-width="1.47"/><line x1="314.10" y1="312.30" x2="314.29" y2="307.18" stroke="#8a8af0" stroke-width="1.47"/><line x1="314.29" y1="307.18" x2="314.47" y2="302.07" stroke="#e82222" stroke-width="1.47"/><line x1="314.10" y1="312.30" x2="318.75" y2="310.54" stroke="#8a8af0" stroke-width="1.47"/><line x1="318.75" y1="310.54" x2="323.40" y2="308.78" stroke="#e82222" stroke-width="1.47"/><line x1="324.90" y1="326.50" x2="320.00" y2="324.07" stroke="#8a8af0" stroke-width="1.47"/><line x1="320.00" y1="324.07" x2="315.10" y2="321.63" stroke="#e82222" stroke-width="1.47"/><line x1="324.90" y1="326.50" x2="329.30" y2="324.27" stroke="#8a8af0" stroke-width="1.47"/><line x1="329.30" y1="324.27" x2="333.70" y2="322.03" stroke="#e82222" stroke-width="1.47"/><line x1="324.90" y1="326.50" x2="324.40" y2="321.83" stroke="#8a8af0" stroke-width="1.47"/><line x1="324.40" y1="321.83" x2="323.90" y2="317.17" stroke="#e82222" stroke-width="1.47"/><line x1="324.90" y1="326.50" x2="320.50" y2="328.73" stroke="#8a8af0" stroke-width="1.47"/><line x1="320.50" y1="328.73" x2="316.10" y2="330.97" stroke="#e82222" stroke-width="1.47"/><line x1="324.90" y1="326.50" x2="329.80" y2="328.93" stroke="#8a8af0" stroke-width="1.47"/><line x1="329.80" y1="328.93" x2="334.70" y2="331.37" stroke="#e82222" stroke-width="1.47"/><line x1="324.90" y1="326.50" x2="324.90" y2="332.27" stroke="#8a8af0" stroke-width="1.47"/><line x1="324.90" y1="332.27" x2="324.90" y2="338.03" stroke="#e82222" stroke-width="1.47"/><line x1="332.70" y1="312.70" x2="333.20" y2="317.37" stroke="#1818b0" stroke-width="1.47"/><line x1="333.20" y1="317.37" x2="333.70" y2="322.03" stroke="#e82222" stroke-width="1.47"/><line x1="332.70" y1="312.70" x2="328.30" y2="314.93" stroke="#1818b0" stroke-width="1.47"/><line x1="328.30" y1="314.93" x2="323.90" y2="317.17" stroke="#e82222" stroke-width="1.47"/><line x1="332.70" y1="312.70" x2="337.35" y2="315.21" stroke="#1818b0" stroke-width="1.47"/><line x1="337.35" y1="315.21" x2="342.00" y2="317.72" stroke="#e82222" stroke-width="1.47"/><line x1="332.70" y1="312.70" x2="328.05" y2="310.74" stroke="#1818b0" stroke-width="1.47"/><line x1="328.05" y1="310.74" x2="323.40" y2="308.78" stroke="#e82222" stroke-width="1.47"/><line x1="332.70" y1="312.70" x2="332.89" y2="307.58" stroke="#1818b0" stroke-width="1.47"/><line x1="332.89" y1="307.58" x2="333.07" y2="302.47" stroke="#e82222" stroke-width="1.47"/><circle cx="296.50" cy="321.23" r="1.84" fill="url(#gO)"/><circle cx="315.10" cy="321.63" r="1.84" fill="url(#gO)"/><circle cx="333.70" cy="322.03" r="1.84" fill="url(#gO)"/><circle cx="286.70" cy="316.37" r="1.84" fill="url(#gO)"/><circle cx="305.30" cy="316.77" r="1.84" fill="url(#gO)"/><circle cx="323.90" cy="317.17" r="1.84" fill="url(#gO)"/><circle cx="297.50" cy="330.57" r="1.84" fill="url(#gO)"/><circle cx="316.10" cy="330.97" r="1.84" fill="url(#gO)"/><circle cx="334.70" cy="331.37" r="1.84" fill="url(#gO)"/><circle cx="287.70" cy="337.23" r="1.84" fill="url(#gO)"/><circle cx="306.30" cy="337.63" r="1.84" fill="url(#gO)"/><circle cx="324.90" cy="338.03" r="1.84" fill="url(#gO)"/><circle cx="278.96" cy="322.35" r="1.84" fill="url(#gO)"/><circle cx="278.96" cy="332.40" r="1.84" fill="url(#gO)"/><circle cx="342.00" cy="317.72" r="1.84" fill="url(#gO)"/><circle cx="295.87" cy="301.67" r="1.84" fill="url(#gO)"/><circle cx="314.47" cy="302.07" r="1.84" fill="url(#gO)"/><circle cx="323.40" cy="308.78" r="1.84" fill="url(#gO)"/><circle cx="333.07" cy="302.47" r="1.84" fill="url(#gO)"/><circle cx="287.70" cy="325.70" r="3.04" fill="url(#gCr)"/><circle cx="295.50" cy="311.90" r="3.04" fill="url(#gFe)"/><circle cx="306.30" cy="326.10" r="3.17" fill="url(#gNi)"/><circle cx="314.10" cy="312.30" r="3.17" fill="url(#gNi)"/><circle cx="324.90" cy="326.50" r="3.17" fill="url(#gNi)"/><circle cx="332.70" cy="312.70" r="3.04" fill="url(#gCo)"/><circle cx="316.33" cy="299.65" r="1.26" fill="#fbf0f0" stroke="#e2a8a8" stroke-width="0.6"/><circle cx="323.40" cy="305.06" r="1.26" fill="#fbf0f0" stroke="#e2a8a8" stroke-width="0.6"/><circle cx="334.93" cy="300.05" r="1.26" fill="#fbf0f0" stroke="#e2a8a8" stroke-width="0.6"/></g>
<g><line x1="364.50" y1="332.60" x2="368.82" y2="330.52" stroke="#1a8a8a" stroke-width="1.47"/><line x1="368.82" y1="330.52" x2="373.13" y2="328.43" stroke="#e82222" stroke-width="1.47"/><line x1="364.50" y1="332.60" x2="363.88" y2="328.08" stroke="#1a8a8a" stroke-width="1.47"/><line x1="363.88" y1="328.08" x2="363.27" y2="323.57" stroke="#e82222" stroke-width="1.47"/><line x1="364.50" y1="332.60" x2="369.43" y2="335.03" stroke="#1a8a8a" stroke-width="1.47"/><line x1="369.43" y1="335.03" x2="374.37" y2="337.47" stroke="#e82222" stroke-width="1.47"/><line x1="364.50" y1="332.60" x2="364.50" y2="338.34" stroke="#1a8a8a" stroke-width="1.47"/><line x1="364.50" y1="338.34" x2="364.50" y2="344.08" stroke="#e82222" stroke-width="1.47"/><line x1="364.50" y1="332.60" x2="360.15" y2="330.93" stroke="#1a8a8a" stroke-width="1.47"/><line x1="360.15" y1="330.93" x2="355.80" y2="329.27" stroke="#e82222" stroke-width="1.47"/><line x1="364.50" y1="332.60" x2="360.15" y2="335.93" stroke="#1a8a8a" stroke-width="1.47"/><line x1="360.15" y1="335.93" x2="355.80" y2="339.26" stroke="#e82222" stroke-width="1.47"/><line x1="371.90" y1="319.40" x2="372.52" y2="323.92" stroke="#c89028" stroke-width="1.47"/><line x1="372.52" y1="323.92" x2="373.13" y2="328.43" stroke="#e82222" stroke-width="1.47"/><line x1="371.90" y1="319.40" x2="367.58" y2="321.48" stroke="#c89028" stroke-width="1.47"/><line x1="367.58" y1="321.48" x2="363.27" y2="323.57" stroke="#e82222" stroke-width="1.47"/><line x1="371.90" y1="319.40" x2="374.49" y2="315.41" stroke="#c89028" stroke-width="1.47"/><line x1="374.49" y1="315.41" x2="377.08" y2="311.42" stroke="#e82222" stroke-width="1.47"/><line x1="383.00" y1="333.30" x2="378.07" y2="330.87" stroke="#8a8af0" stroke-width="1.47"/><line x1="378.07" y1="330.87" x2="373.13" y2="328.43" stroke="#e82222" stroke-width="1.47"/><line x1="383.00" y1="333.30" x2="387.32" y2="331.22" stroke="#8a8af0" stroke-width="1.47"/><line x1="387.32" y1="331.22" x2="391.63" y2="329.13" stroke="#e82222" stroke-width="1.47"/><line x1="383.00" y1="333.30" x2="378.68" y2="335.38" stroke="#8a8af0" stroke-width="1.47"/><line x1="378.68" y1="335.38" x2="374.37" y2="337.47" stroke="#e82222" stroke-width="1.47"/><line x1="383.00" y1="333.30" x2="387.93" y2="335.73" stroke="#8a8af0" stroke-width="1.47"/><line x1="387.93" y1="335.73" x2="392.87" y2="338.17" stroke="#e82222" stroke-width="1.47"/><line x1="383.00" y1="333.30" x2="383.00" y2="339.04" stroke="#8a8af0" stroke-width="1.47"/><line x1="383.00" y1="339.04" x2="383.00" y2="344.78" stroke="#e82222" stroke-width="1.47"/><line x1="390.40" y1="320.10" x2="391.02" y2="324.62" stroke="#8a8af0" stroke-width="1.47"/><line x1="391.02" y1="324.62" x2="391.63" y2="329.13" stroke="#e82222" stroke-width="1.47"/><line x1="390.40" y1="320.10" x2="395.33" y2="322.53" stroke="#8a8af0" stroke-width="1.47"/><line x1="395.33" y1="322.53" x2="400.27" y2="324.97" stroke="#e82222" stroke-width="1.47"/><line x1="390.40" y1="320.10" x2="387.81" y2="315.76" stroke="#8a8af0" stroke-width="1.47"/><line x1="387.81" y1="315.76" x2="385.22" y2="311.42" stroke="#e82222" stroke-width="1.47"/><line x1="390.40" y1="320.10" x2="395.02" y2="318.42" stroke="#8a8af0" stroke-width="1.47"/><line x1="395.02" y1="318.42" x2="399.65" y2="316.75" stroke="#e82222" stroke-width="1.47"/><line x1="401.50" y1="334.00" x2="396.57" y2="331.57" stroke="#8a8af0" stroke-width="1.47"/><line x1="396.57" y1="331.57" x2="391.63" y2="329.13" stroke="#e82222" stroke-width="1.47"/><line x1="401.50" y1="334.00" x2="405.82" y2="331.92" stroke="#8a8af0" stroke-width="1.47"/><line x1="405.82" y1="331.92" x2="410.13" y2="329.83" stroke="#e82222" stroke-width="1.47"/><line x1="401.50" y1="334.00" x2="400.88" y2="329.48" stroke="#8a8af0" stroke-width="1.47"/><line x1="400.88" y1="329.48" x2="400.27" y2="324.97" stroke="#e82222" stroke-width="1.47"/><line x1="401.50" y1="334.00" x2="397.18" y2="336.08" stroke="#8a8af0" stroke-width="1.47"/><line x1="397.18" y1="336.08" x2="392.87" y2="338.17" stroke="#e82222" stroke-width="1.47"/><line x1="401.50" y1="334.00" x2="406.43" y2="336.43" stroke="#8a8af0" stroke-width="1.47"/><line x1="406.43" y1="336.43" x2="411.37" y2="338.87" stroke="#e82222" stroke-width="1.47"/><line x1="401.50" y1="334.00" x2="401.50" y2="339.74" stroke="#8a8af0" stroke-width="1.47"/><line x1="401.50" y1="339.74" x2="401.50" y2="345.48" stroke="#e82222" stroke-width="1.47"/><line x1="408.90" y1="320.80" x2="409.52" y2="325.32" stroke="#1818b0" stroke-width="1.47"/><line x1="409.52" y1="325.32" x2="410.13" y2="329.83" stroke="#e82222" stroke-width="1.47"/><line x1="408.90" y1="320.80" x2="404.58" y2="322.88" stroke="#1818b0" stroke-width="1.47"/><line x1="404.58" y1="322.88" x2="400.27" y2="324.97" stroke="#e82222" stroke-width="1.47"/><line x1="408.90" y1="320.80" x2="413.53" y2="323.30" stroke="#1818b0" stroke-width="1.47"/><line x1="413.53" y1="323.30" x2="418.16" y2="325.80" stroke="#e82222" stroke-width="1.47"/><line x1="408.90" y1="320.80" x2="404.27" y2="318.77" stroke="#1818b0" stroke-width="1.47"/><line x1="404.27" y1="318.77" x2="399.65" y2="316.75" stroke="#e82222" stroke-width="1.47"/><line x1="408.90" y1="320.80" x2="409.09" y2="315.71" stroke="#1818b0" stroke-width="1.47"/><line x1="409.09" y1="315.71" x2="409.27" y2="310.62" stroke="#e82222" stroke-width="1.47"/><circle cx="373.13" cy="328.43" r="1.84" fill="url(#gO)"/><circle cx="391.63" cy="329.13" r="1.84" fill="url(#gO)"/><circle cx="410.13" cy="329.83" r="1.84" fill="url(#gO)"/><circle cx="363.27" cy="323.57" r="1.84" fill="url(#gO)"/><circle cx="400.27" cy="324.97" r="1.84" fill="url(#gO)"/><circle cx="374.37" cy="337.47" r="1.84" fill="url(#gO)"/><circle cx="392.87" cy="338.17" r="1.84" fill="url(#gO)"/><circle cx="411.37" cy="338.87" r="1.84" fill="url(#gO)"/><circle cx="364.50" cy="344.08" r="1.84" fill="url(#gO)"/><circle cx="383.00" cy="344.78" r="1.84" fill="url(#gO)"/><circle cx="401.50" cy="345.48" r="1.84" fill="url(#gO)"/><circle cx="355.80" cy="329.27" r="1.84" fill="url(#gO)"/><circle cx="355.80" cy="339.26" r="1.84" fill="url(#gO)"/><circle cx="418.16" cy="325.80" r="1.84" fill="url(#gO)"/><circle cx="377.08" cy="311.42" r="1.84" fill="url(#gO)"/><circle cx="385.22" cy="311.42" r="1.84" fill="url(#gO)"/><circle cx="399.65" cy="316.75" r="1.84" fill="url(#gO)"/><circle cx="409.27" cy="310.62" r="1.84" fill="url(#gO)"/><circle cx="364.50" cy="332.60" r="3.04" fill="url(#gCr)"/><circle cx="371.90" cy="319.40" r="3.04" fill="url(#gFe)"/><circle cx="383.00" cy="333.30" r="3.17" fill="url(#gNi)"/><circle cx="390.40" cy="320.10" r="3.17" fill="url(#gNi)"/><circle cx="401.50" cy="334.00" r="3.17" fill="url(#gNi)"/><circle cx="408.90" cy="320.80" r="3.04" fill="url(#gCo)"/><circle cx="399.65" cy="313.04" r="1.26" fill="#fbf0f0" stroke="#e2a8a8" stroke-width="0.6"/><circle cx="411.12" cy="308.21" r="1.26" fill="#fbf0f0" stroke="#e2a8a8" stroke-width="0.6"/></g>
<g><line x1="440.30" y1="308.30" x2="444.78" y2="306.25" stroke="#1a8a8a" stroke-width="1.47"/><line x1="444.78" y1="306.25" x2="449.27" y2="304.20" stroke="#e82222" stroke-width="1.47"/><line x1="440.30" y1="308.30" x2="440.07" y2="303.95" stroke="#1a8a8a" stroke-width="1.47"/><line x1="440.07" y1="303.95" x2="439.83" y2="299.60" stroke="#e82222" stroke-width="1.47"/><line x1="440.30" y1="308.30" x2="445.02" y2="310.60" stroke="#1a8a8a" stroke-width="1.47"/><line x1="445.02" y1="310.60" x2="449.73" y2="312.90" stroke="#e82222" stroke-width="1.47"/><line x1="440.30" y1="308.30" x2="440.30" y2="314.01" stroke="#1a8a8a" stroke-width="1.47"/><line x1="440.30" y1="314.01" x2="440.30" y2="319.71" stroke="#e82222" stroke-width="1.47"/><line x1="440.30" y1="308.30" x2="435.97" y2="306.64" stroke="#1a8a8a" stroke-width="1.47"/><line x1="435.97" y1="306.64" x2="431.65" y2="304.99" stroke="#e82222" stroke-width="1.47"/><line x1="440.30" y1="308.30" x2="435.97" y2="311.61" stroke="#1a8a8a" stroke-width="1.47"/><line x1="435.97" y1="311.61" x2="431.65" y2="314.93" stroke="#e82222" stroke-width="1.47"/><line x1="448.80" y1="295.50" x2="449.03" y2="299.85" stroke="#c89028" stroke-width="1.47"/><line x1="449.03" y1="299.85" x2="449.27" y2="304.20" stroke="#e82222" stroke-width="1.47"/><line x1="448.80" y1="295.50" x2="444.32" y2="297.55" stroke="#c89028" stroke-width="1.47"/><line x1="444.32" y1="297.55" x2="439.83" y2="299.60" stroke="#e82222" stroke-width="1.47"/><line x1="448.80" y1="295.50" x2="452.77" y2="291.11" stroke="#c89028" stroke-width="1.47"/><line x1="452.77" y1="291.11" x2="456.75" y2="286.72" stroke="#e82222" stroke-width="1.47"/><line x1="458.70" y1="308.80" x2="453.98" y2="306.50" stroke="#8a8af0" stroke-width="1.47"/><line x1="453.98" y1="306.50" x2="449.27" y2="304.20" stroke="#e82222" stroke-width="1.47"/><line x1="458.70" y1="308.80" x2="462.77" y2="306.32" stroke="#8a8af0" stroke-width="1.47"/><line x1="462.77" y1="306.32" x2="466.83" y2="303.83" stroke="#e82222" stroke-width="1.47"/><line x1="458.70" y1="308.80" x2="454.22" y2="310.85" stroke="#8a8af0" stroke-width="1.47"/><line x1="454.22" y1="310.85" x2="449.73" y2="312.90" stroke="#e82222" stroke-width="1.47"/><line x1="458.70" y1="308.80" x2="463.42" y2="311.10" stroke="#8a8af0" stroke-width="1.47"/><line x1="463.42" y1="311.10" x2="468.13" y2="313.40" stroke="#e82222" stroke-width="1.47"/><line x1="458.70" y1="308.80" x2="458.70" y2="314.51" stroke="#8a8af0" stroke-width="1.47"/><line x1="458.70" y1="314.51" x2="458.70" y2="320.21" stroke="#e82222" stroke-width="1.47"/><line x1="464.70" y1="293.40" x2="465.77" y2="298.62" stroke="#8a8af0" stroke-width="1.47"/><line x1="465.77" y1="298.62" x2="466.83" y2="303.83" stroke="#e82222" stroke-width="1.47"/><line x1="464.70" y1="293.40" x2="470.18" y2="296.05" stroke="#8a8af0" stroke-width="1.47"/><line x1="470.18" y1="296.05" x2="475.67" y2="298.70" stroke="#e82222" stroke-width="1.47"/><line x1="464.70" y1="293.40" x2="460.73" y2="290.06" stroke="#8a8af0" stroke-width="1.47"/><line x1="460.73" y1="290.06" x2="456.75" y2="286.72" stroke="#e82222" stroke-width="1.47"/><line x1="464.70" y1="293.40" x2="469.83" y2="291.56" stroke="#8a8af0" stroke-width="1.47"/><line x1="469.83" y1="291.56" x2="474.95" y2="289.72" stroke="#e82222" stroke-width="1.47"/><line x1="477.10" y1="309.30" x2="471.97" y2="306.57" stroke="#8a8af0" stroke-width="1.47"/><line x1="471.97" y1="306.57" x2="466.83" y2="303.83" stroke="#e82222" stroke-width="1.47"/><line x1="477.10" y1="309.30" x2="481.52" y2="306.73" stroke="#8a8af0" stroke-width="1.47"/><line x1="481.52" y1="306.73" x2="485.93" y2="304.17" stroke="#e82222" stroke-width="1.47"/><line x1="477.10" y1="309.30" x2="476.38" y2="304.00" stroke="#8a8af0" stroke-width="1.47"/><line x1="476.38" y1="304.00" x2="475.67" y2="298.70" stroke="#e82222" stroke-width="1.47"/><line x1="477.10" y1="309.30" x2="472.62" y2="311.35" stroke="#8a8af0" stroke-width="1.47"/><line x1="472.62" y1="311.35" x2="468.13" y2="313.40" stroke="#e82222" stroke-width="1.47"/><line x1="477.10" y1="309.30" x2="481.82" y2="311.60" stroke="#8a8af0" stroke-width="1.47"/><line x1="481.82" y1="311.60" x2="486.53" y2="313.90" stroke="#e82222" stroke-width="1.47"/><line x1="477.10" y1="309.30" x2="477.10" y2="315.01" stroke="#8a8af0" stroke-width="1.47"/><line x1="477.10" y1="315.01" x2="477.10" y2="320.71" stroke="#e82222" stroke-width="1.47"/><line x1="485.20" y1="293.40" x2="485.57" y2="298.78" stroke="#1818b0" stroke-width="1.47"/><line x1="485.57" y1="298.78" x2="485.93" y2="304.17" stroke="#e82222" stroke-width="1.47"/><line x1="485.20" y1="293.40" x2="480.43" y2="296.05" stroke="#1818b0" stroke-width="1.47"/><line x1="480.43" y1="296.05" x2="475.67" y2="298.70" stroke="#e82222" stroke-width="1.47"/><line x1="485.20" y1="293.40" x2="489.80" y2="295.88" stroke="#1818b0" stroke-width="1.47"/><line x1="489.80" y1="295.88" x2="494.40" y2="298.37" stroke="#e82222" stroke-width="1.47"/><line x1="485.20" y1="293.40" x2="480.08" y2="291.56" stroke="#1818b0" stroke-width="1.47"/><line x1="480.08" y1="291.56" x2="474.95" y2="289.72" stroke="#e82222" stroke-width="1.47"/><line x1="485.20" y1="293.40" x2="485.38" y2="288.34" stroke="#1818b0" stroke-width="1.47"/><line x1="485.38" y1="288.34" x2="485.57" y2="283.28" stroke="#e82222" stroke-width="1.47"/><circle cx="449.27" cy="304.20" r="1.84" fill="url(#gO)"/><circle cx="466.83" cy="303.83" r="1.84" fill="url(#gO)"/><circle cx="485.93" cy="304.17" r="1.84" fill="url(#gO)"/><circle cx="439.83" cy="299.60" r="1.84" fill="url(#gO)"/><circle cx="475.67" cy="298.70" r="1.84" fill="url(#gO)"/><circle cx="449.73" cy="312.90" r="1.84" fill="url(#gO)"/><circle cx="468.13" cy="313.40" r="1.84" fill="url(#gO)"/><circle cx="486.53" cy="313.90" r="1.84" fill="url(#gO)"/><circle cx="440.30" cy="319.71" r="1.84" fill="url(#gO)"/><circle cx="458.70" cy="320.21" r="1.84" fill="url(#gO)"/><circle cx="477.10" cy="320.71" r="1.84" fill="url(#gO)"/><circle cx="431.65" cy="304.99" r="1.84" fill="url(#gO)"/><circle cx="431.65" cy="314.93" r="1.84" fill="url(#gO)"/><circle cx="494.40" cy="298.37" r="1.84" fill="url(#gO)"/><circle cx="456.75" cy="286.72" r="1.84" fill="url(#gO)"/><circle cx="474.95" cy="289.72" r="1.84" fill="url(#gO)"/><circle cx="485.57" cy="283.28" r="1.84" fill="url(#gO)"/><circle cx="440.30" cy="308.30" r="3.04" fill="url(#gCr)"/><circle cx="448.80" cy="295.50" r="3.04" fill="url(#gFe)"/><circle cx="458.70" cy="308.80" r="3.17" fill="url(#gNi)"/><circle cx="464.70" cy="293.40" r="3.17" fill="url(#gNi)"/><circle cx="477.10" cy="309.30" r="3.17" fill="url(#gNi)"/><circle cx="485.20" cy="293.40" r="3.04" fill="url(#gCo)"/><circle cx="474.95" cy="286.04" r="1.26" fill="#fbf0f0" stroke="#e2a8a8" stroke-width="0.6"/><circle cx="487.41" cy="280.88" r="1.26" fill="#fbf0f0" stroke="#e2a8a8" stroke-width="0.6"/></g>
<text x="517.40" y="7.90" font-size="15" fill="#000" font-weight="bold" stroke="#000">c</text>
<rect x="558.20" y="9.20" width="126.40" height="190.00" fill="none" stroke="#444" stroke-width="1" />
<line x1="555.20" y1="191.10" x2="558.20" y2="191.10" stroke="#444" stroke-width="1" />
<text x="551.30" y="195.10" font-size="11" text-anchor="end" stroke="#1a1a1a">1.2</text>
<line x1="555.20" y1="162.10" x2="558.20" y2="162.10" stroke="#444" stroke-width="1" />
<text x="551.30" y="166.10" font-size="11" text-anchor="end" stroke="#1a1a1a">1.6</text>
<line x1="555.20" y1="133.10" x2="558.20" y2="133.10" stroke="#444" stroke-width="1" />
<text x="551.30" y="137.10" font-size="11" text-anchor="end" stroke="#1a1a1a">2.0</text>
<line x1="555.20" y1="104.10" x2="558.20" y2="104.10" stroke="#444" stroke-width="1" />
<text x="551.30" y="108.10" font-size="11" text-anchor="end" stroke="#1a1a1a">2.4</text>
<line x1="555.20" y1="75.10" x2="558.20" y2="75.10" stroke="#444" stroke-width="1" />
<text x="551.30" y="79.10" font-size="11" text-anchor="end" stroke="#1a1a1a">2.8</text>
<line x1="555.20" y1="46.10" x2="558.20" y2="46.10" stroke="#444" stroke-width="1" />
<text x="551.30" y="50.10" font-size="11" text-anchor="end" stroke="#1a1a1a">3.2</text>
<line x1="555.20" y1="17.10" x2="558.20" y2="17.10" stroke="#444" stroke-width="1" />
<text x="551.30" y="21.10" font-size="11" text-anchor="end" stroke="#1a1a1a">3.6</text>
<line x1="556.40" y1="176.60" x2="558.20" y2="176.60" stroke="#444" stroke-width="1" />
<line x1="556.40" y1="147.60" x2="558.20" y2="147.60" stroke="#444" stroke-width="1" />
<line x1="556.40" y1="118.60" x2="558.20" y2="118.60" stroke="#444" stroke-width="1" />
<line x1="556.40" y1="89.60" x2="558.20" y2="89.60" stroke="#444" stroke-width="1" />
<line x1="556.40" y1="60.60" x2="558.20" y2="60.60" stroke="#444" stroke-width="1" />
<line x1="556.40" y1="31.60" x2="558.20" y2="31.60" stroke="#444" stroke-width="1" />
<rect x="577.30" y="175.29" width="12.40" height="23.91" fill="#86cdfa" stroke="#333" stroke-width="0.9" />
<rect x="589.70" y="137.88" width="12.80" height="61.31" fill="#f7bf8e" stroke="#333" stroke-width="0.9" />
<rect x="640.60" y="48.28" width="12.50" height="150.92" fill="#86cdfa" stroke="#333" stroke-width="0.9" />
<rect x="653.10" y="129.84" width="12.50" height="69.36" fill="#f7bf8e" stroke="#333" stroke-width="0.9" />
<rect x="565.40" y="15.80" width="29.20" height="14.60" fill="#86cdfa" stroke="#333" stroke-width="0.9" />
<rect x="565.40" y="32.60" width="29.20" height="14.00" fill="#f7bf8e" stroke="#333" stroke-width="0.9" />
<text x="602.60" y="26.40" font-size="11" stroke="#1a1a1a">LOM</text>
<text x="602.60" y="43.20" font-size="11" stroke="#1a1a1a">AEM</text>
<text x="528.50" y="103.50" font-size="11" text-anchor="middle" transform="rotate(-90 528.50 103.50)" stroke="#1a1a1a">Δ <tspan font-style="italic">G</tspan> of RLS (eV)</text>
<text x="604.00" y="212.80" font-size="11" text-anchor="end" transform="rotate(-20 604.00 212.80)" stroke="#1a1a1a">(FeCoCrNi)OOH</text>
<text x="668.50" y="212.80" font-size="11" text-anchor="end" transform="rotate(-20 668.50 212.80)" stroke="#1a1a1a">(CoCrNi)OOH</text>
<text x="517.60" y="265.50" font-size="15" fill="#000" font-weight="bold" stroke="#000">d</text>
<rect x="566.60" y="266.40" width="116.80" height="175.50" fill="none" stroke="#444" stroke-width="1" />
<line x1="563.00" y1="419.40" x2="566.60" y2="419.40" stroke="#444" stroke-width="1" />
<line x1="563.00" y1="367.65" x2="566.60" y2="367.65" stroke="#444" stroke-width="1" />
<line x1="563.00" y1="315.90" x2="566.60" y2="315.90" stroke="#444" stroke-width="1" />
<text x="555.60" y="423.50" font-size="11" text-anchor="end" stroke="#1a1a1a">10</text>
<text x="555.80" y="418.80" font-size="6.5" stroke="#1a1a1a">0</text>
<text x="555.60" y="371.75" font-size="11" text-anchor="end" stroke="#1a1a1a">10</text>
<text x="555.80" y="367.05" font-size="6.5" stroke="#1a1a1a">1</text>
<text x="555.60" y="320.00" font-size="11" text-anchor="end" stroke="#1a1a1a">10</text>
<text x="555.80" y="315.30" font-size="6.5" stroke="#1a1a1a">2</text>
<line x1="564.60" y1="439.99" x2="566.60" y2="439.99" stroke="#444" stroke-width="0.8" />
<line x1="564.60" y1="434.98" x2="566.60" y2="434.98" stroke="#444" stroke-width="0.8" />
<line x1="564.60" y1="430.88" x2="566.60" y2="430.88" stroke="#444" stroke-width="0.8" />
<line x1="564.60" y1="427.42" x2="566.60" y2="427.42" stroke="#444" stroke-width="0.8" />
<line x1="564.60" y1="424.42" x2="566.60" y2="424.42" stroke="#444" stroke-width="0.8" />
<line x1="564.60" y1="421.77" x2="566.60" y2="421.77" stroke="#444" stroke-width="0.8" />
<line x1="564.60" y1="403.82" x2="566.60" y2="403.82" stroke="#444" stroke-width="0.8" />
<line x1="564.60" y1="394.71" x2="566.60" y2="394.71" stroke="#444" stroke-width="0.8" />
<line x1="564.60" y1="388.24" x2="566.60" y2="388.24" stroke="#444" stroke-width="0.8" />
<line x1="564.60" y1="383.23" x2="566.60" y2="383.23" stroke="#444" stroke-width="0.8" />
<line x1="564.60" y1="379.13" x2="566.60" y2="379.13" stroke="#444" stroke-width="0.8" />
<line x1="564.60" y1="375.67" x2="566.60" y2="375.67" stroke="#444" stroke-width="0.8" />
<line x1="564.60" y1="372.67" x2="566.60" y2="372.67" stroke="#444" stroke-width="0.8" />
<line x1="564.60" y1="370.02" x2="566.60" y2="370.02" stroke="#444" stroke-width="0.8" />
<line x1="564.60" y1="352.07" x2="566.60" y2="352.07" stroke="#444" stroke-width="0.8" />
<line x1="564.60" y1="342.96" x2="566.60" y2="342.96" stroke="#444" stroke-width="0.8" />
<line x1="564.60" y1="336.49" x2="566.60" y2="336.49" stroke="#444" stroke-width="0.8" />
<line x1="564.60" y1="331.48" x2="566.60" y2="331.48" stroke="#444" stroke-width="0.8" />
<line x1="564.60" y1="327.38" x2="566.60" y2="327.38" stroke="#444" stroke-width="0.8" />
<line x1="564.60" y1="323.92" x2="566.60" y2="323.92" stroke="#444" stroke-width="0.8" />
<line x1="564.60" y1="320.92" x2="566.60" y2="320.92" stroke="#444" stroke-width="0.8" />
<line x1="564.60" y1="318.27" x2="566.60" y2="318.27" stroke="#444" stroke-width="0.8" />
<line x1="564.60" y1="300.32" x2="566.60" y2="300.32" stroke="#444" stroke-width="0.8" />
<line x1="564.60" y1="291.21" x2="566.60" y2="291.21" stroke="#444" stroke-width="0.8" />
<line x1="564.60" y1="284.74" x2="566.60" y2="284.74" stroke="#444" stroke-width="0.8" />
<line x1="564.60" y1="279.73" x2="566.60" y2="279.73" stroke="#444" stroke-width="0.8" />
<line x1="564.60" y1="275.63" x2="566.60" y2="275.63" stroke="#444" stroke-width="0.8" />
<line x1="564.60" y1="272.17" x2="566.60" y2="272.17" stroke="#444" stroke-width="0.8" />
<line x1="564.60" y1="269.17" x2="566.60" y2="269.17" stroke="#444" stroke-width="0.8" />
<line x1="564.60" y1="266.52" x2="566.60" y2="266.52" stroke="#444" stroke-width="0.8" />
<line x1="577.70" y1="441.90" x2="577.70" y2="444.90" stroke="#444" stroke-width="1" />
<text x="578.90" y="458.00" font-size="11" text-anchor="middle" stroke="#1a1a1a">12.0</text>
<line x1="607.35" y1="441.90" x2="607.35" y2="444.90" stroke="#444" stroke-width="1" />
<text x="608.55" y="458.00" font-size="11" text-anchor="middle" stroke="#1a1a1a">12.5</text>
<line x1="637.00" y1="441.90" x2="637.00" y2="444.90" stroke="#444" stroke-width="1" />
<text x="638.20" y="458.00" font-size="11" text-anchor="middle" stroke="#1a1a1a">13.0</text>
<line x1="666.65" y1="441.90" x2="666.65" y2="444.90" stroke="#444" stroke-width="1" />
<text x="667.85" y="458.00" font-size="11" text-anchor="middle" stroke="#1a1a1a">13.5</text>
<text x="625.80" y="473.30" font-size="11" text-anchor="middle" stroke="#1a1a1a">pH</text>
<text x="535.00" y="348.80" font-size="11.5" text-anchor="middle" transform="rotate(-90 535.00 348.80)" stroke="#1a1a1a">Current density (mA cm<tspan dy="-4.8" font-size="8.5">−2</tspan><tspan dy="4.8">)</tspan></text>
<line x1="570.70" y1="402.30" x2="680.80" y2="368.40" stroke="#e26b5a" stroke-width="1.0" />
<line x1="572.20" y1="422.00" x2="677.70" y2="304.40" stroke="#2fb344" stroke-width="1.0" />
<line x1="574.30" y1="434.70" x2="678.40" y2="276.90" stroke="#4a78d8" stroke-width="1.0" />
<circle cx="577.70" cy="399.60" r="3.00" fill="url(#gR)" />
<circle cx="607.35" cy="389.20" r="3.00" fill="url(#gR)" />
<circle cx="637.00" cy="380.30" r="3.00" fill="url(#gR)" />
<circle cx="671.87" cy="370.60" r="3.00" fill="url(#gR)" />
<circle cx="577.70" cy="415.50" r="3.00" fill="url(#gG)" />
<circle cx="607.35" cy="379.80" r="3.00" fill="url(#gG)" />
<circle cx="637.00" cy="341.80" r="3.00" fill="url(#gG)" />
<circle cx="671.87" cy="318.10" r="3.00" fill="url(#gG)" />
<circle cx="577.70" cy="425.10" r="3.00" fill="url(#gB)" />
<circle cx="607.35" cy="387.40" r="3.00" fill="url(#gB)" />
<circle cx="637.00" cy="337.40" r="3.00" fill="url(#gB)" />
<circle cx="671.87" cy="286.90" r="3.00" fill="url(#gB)" />
<line x1="571.00" y1="279.20" x2="594.30" y2="279.20" stroke="#e26b5a" stroke-width="1.0" />
<circle cx="582.50" cy="279.20" r="3.00" fill="url(#gR)" />
<text x="597.80" y="283.20" font-size="11" fill="#e26b5a" stroke="#e26b5a">EA-CCN</text>
<line x1="571.00" y1="293.20" x2="594.30" y2="293.20" stroke="#2fb344" stroke-width="1.0" />
<circle cx="582.50" cy="293.20" r="3.00" fill="url(#gG)" />
<text x="597.80" y="297.20" font-size="11" fill="#2fb344" stroke="#2fb344">EA-FCN</text>
<line x1="571.00" y1="307.30" x2="594.30" y2="307.30" stroke="#4a78d8" stroke-width="1.0" />
<circle cx="582.50" cy="307.30" r="3.00" fill="url(#gB)" />
<text x="597.80" y="311.30" font-size="11" fill="#4a78d8" stroke="#4a78d8">EA-FCCN</text>
<text x="-0.50" y="499.90" font-size="15" fill="#000" font-weight="bold" stroke="#000">e</text>
<rect x="20.50" y="500.60" width="128.10" height="71.50" fill="none" stroke="#444" stroke-width="1" />
<rect x="20.50" y="576.30" width="128.10" height="71.60" fill="none" stroke="#444" stroke-width="1" />
<rect x="20.50" y="652.30" width="128.10" height="71.60" fill="none" stroke="#444" stroke-width="1" />
<line x1="55.98" y1="500.60" x2="55.98" y2="723.90" stroke="#f7931e" stroke-width="1.9" />
<line x1="84.36" y1="569.60" x2="84.36" y2="572.10" stroke="#9a2ef0" stroke-width="1.5" />
<line x1="112.74" y1="569.60" x2="112.74" y2="572.10" stroke="#9a2ef0" stroke-width="1.5" />
<line x1="84.36" y1="628.90" x2="84.36" y2="647.90" stroke="#9a2ef0" stroke-width="1.5" />
<line x1="112.74" y1="641.50" x2="112.74" y2="647.90" stroke="#9a2ef0" stroke-width="1.5" />
<line x1="84.36" y1="704.20" x2="84.36" y2="723.90" stroke="#9a2ef0" stroke-width="1.5" />
<line x1="112.74" y1="718.20" x2="112.74" y2="723.90" stroke="#9a2ef0" stroke-width="1.5" />
<line x1="27.60" y1="723.90" x2="27.60" y2="726.80" stroke="#444" stroke-width="1" />
<text x="27.60" y="738.80" font-size="11" text-anchor="middle" stroke="#1a1a1a">30</text>
<line x1="55.98" y1="723.90" x2="55.98" y2="726.80" stroke="#444" stroke-width="1" />
<text x="55.98" y="738.80" font-size="11" text-anchor="middle" stroke="#1a1a1a">32</text>
<line x1="84.36" y1="723.90" x2="84.36" y2="726.80" stroke="#444" stroke-width="1" />
<text x="84.36" y="738.80" font-size="11" text-anchor="middle" stroke="#1a1a1a">34</text>
<line x1="112.74" y1="723.90" x2="112.74" y2="726.80" stroke="#444" stroke-width="1" />
<text x="112.74" y="738.80" font-size="11" text-anchor="middle" stroke="#1a1a1a">36</text>
<line x1="141.12" y1="723.90" x2="141.12" y2="726.80" stroke="#444" stroke-width="1" />
<text x="141.12" y="738.80" font-size="11" text-anchor="middle" stroke="#1a1a1a">38</text>
<line x1="41.79" y1="723.90" x2="41.79" y2="725.60" stroke="#444" stroke-width="0.8" />
<line x1="70.17" y1="723.90" x2="70.17" y2="725.60" stroke="#444" stroke-width="0.8" />
<line x1="98.55" y1="723.90" x2="98.55" y2="725.60" stroke="#444" stroke-width="0.8" />
<line x1="126.93" y1="723.90" x2="126.93" y2="725.60" stroke="#444" stroke-width="0.8" />
<text x="83.60" y="752.80" font-size="11" text-anchor="middle" font-style="italic" stroke="#1a1a1a">m/z</text>
<text x="10.20" y="612.30" font-size="11" text-anchor="middle" transform="rotate(-90 10.20 612.30)" stroke="#1a1a1a">Intensity (a.u.)</text>
<text x="144.60" y="512.70" font-size="11" text-anchor="end" fill="#e26b5a" stroke="#e26b5a">EA-CCN</text>
<text x="144.60" y="589.90" font-size="11" text-anchor="end" fill="#2fb344" stroke="#2fb344">EA-FCN</text>
<text x="144.60" y="664.60" font-size="11" text-anchor="end" fill="#4a7fd6" stroke="#4a7fd6">EA-FCCN</text>
<rect x="92.20" y="529.60" width="39.80" height="24.20" fill="#c4c4c4" />
<rect x="89.40" y="527.10" width="39.80" height="24.20" fill="#fff" stroke="#dcdcdc" stroke-width="0.8" />
<line x1="96.50" y1="530.30" x2="96.50" y2="548.80" stroke="#111" stroke-width="1.2" />
<line x1="95.30" y1="530.30" x2="97.70" y2="530.30" stroke="#111" stroke-width="1.1" />
<line x1="95.30" y1="548.80" x2="97.70" y2="548.80" stroke="#111" stroke-width="1.1" />
<text x="98.40" y="542.70" font-size="11" stroke="#1a1a1a">5 a.u.</text>
<text x="35.00" y="665.80" font-size="11" fill="#f7931e" stroke="#f7931e"><tspan font-size="6.2" dy="-5">16</tspan><tspan dy="5">O</tspan><tspan font-size="6.5" dy="2.5" dx="-0.6">2</tspan></text>
<text x="66.60" y="701.40" font-size="11" fill="#f7931e" stroke="#f7931e"><tspan font-size="6.2" dy="-5">16</tspan><tspan dy="5">O</tspan><tspan font-size="6.2" dy="-5" fill="#9a2ef0" stroke="#9a2ef0">18</tspan><tspan dy="5" fill="#9a2ef0" stroke="#9a2ef0">O</tspan></text>
<text x="107.50" y="716.10" font-size="11" fill="#9a2ef0" stroke="#9a2ef0"><tspan font-size="6.2" dy="-5">18</tspan><tspan dy="5">O</tspan><tspan font-size="6.5" dy="2.5" dx="-0.3">2</tspan></text>
<text x="177.20" y="499.90" font-size="15" fill="#000" font-weight="bold" stroke="#000">f</text>
<text x="255.85" y="544.90" font-size="10.0" text-anchor="middle" fill="#ff1f1f" stroke="#ff1f1f">Fe</text>
<text x="280.25" y="544.90" font-size="10.0" text-anchor="middle" fill="#ff1f1f" stroke="#ff1f1f">Ni</text>
<text x="307.60" y="544.90" font-size="10.0" text-anchor="middle" fill="#ff1f1f" stroke="#ff1f1f">Co</text>
<text x="242.45" y="560.80" font-size="10.0" text-anchor="middle" fill="#222" stroke="#222">O</text>
<text x="268.05" y="560.80" font-size="10.0" text-anchor="middle" fill="#222" stroke="#222">O</text>
<text x="293.93" y="560.80" font-size="10.0" text-anchor="middle" fill="#222" stroke="#222">O</text>
<text x="321.60" y="560.80" font-size="10.0" text-anchor="middle" fill="#222" stroke="#222">O</text>
<text x="255.05" y="524.60" font-size="10.0" text-anchor="middle" fill="#222" stroke="#222">O</text>
<text x="275.55" y="524.60" font-size="10.0" fill="#222" stroke="#222">OH</text>
<text x="301.60" y="524.60" font-size="10.0" fill="#222" stroke="#222">OH</text>
<path d="M250.45,548.70 L244.45,553.90 M261.45,548.70 L265.65,553.50 M270.65,553.50 L276.05,548.60 M285.25,548.60 L291.53,553.50 M296.73,553.50 L302.00,548.30 M313.40,548.30 L319.00,553.50 M255.05,527.90 L255.05,536.90 M279.95,527.90 L279.95,536.90 M305.00,527.90 L305.00,540.40" stroke="#222" stroke-width="0.75" fill="none"/>
<text x="203.65" y="653.50" font-size="10.0" text-anchor="middle" fill="#ff1f1f" stroke="#ff1f1f">Fe</text>
<text x="228.00" y="653.50" font-size="10.0" text-anchor="middle" fill="#ff1f1f" stroke="#ff1f1f">Ni</text>
<text x="255.30" y="653.50" font-size="10.0" text-anchor="middle" fill="#ff1f1f" stroke="#ff1f1f">Co</text>
<text x="190.25" y="668.80" font-size="10.0" text-anchor="middle" fill="#222" stroke="#222">O</text>
<text x="215.82" y="668.80" font-size="10.0" text-anchor="middle" fill="#222" stroke="#222">O</text>
<text x="241.65" y="668.80" font-size="10.0" text-anchor="middle" fill="#222" stroke="#222">O</text>
<text x="269.30" y="668.80" font-size="10.0" text-anchor="middle" fill="#222" stroke="#222">O</text>
<text x="206.35" y="633.20" font-size="10.0" text-anchor="end" stroke="#1a1a1a">H<tspan fill="#1a1aff" stroke="#1a1aff">O</tspan></text>
<text x="230.10" y="633.20" font-size="10.0" text-anchor="end" stroke="#1a1a1a">H<tspan fill="#1a1aff" stroke="#1a1aff">O</tspan></text>
<path d="M227.05,644.90 L227.75,644.90 L229.05,635.90 L225.75,635.90 Z" fill="#111"/>
<text x="253.30" y="633.20" font-size="10.0" fill="#222" stroke="#222">OH</text>
<path d="M254.75,646.90 L255.45,646.90 L256.75,635.90 L253.45,635.90 Z" fill="#111"/>
<text x="241.65" y="628.60" font-size="10.0" text-anchor="middle" fill="#222" stroke="#222">H</text>
<text x="241.65" y="638.10" font-size="10.0" text-anchor="middle" fill="#1a1aff" stroke="#1a1aff">O</text>
<path d="M231.44,645.25 L232.24,646.01 M232.50,643.71 L233.73,644.89 M233.56,642.17 L235.22,643.76 M234.61,640.63 L236.71,642.64 M235.67,639.09 L238.20,641.51 M236.73,637.55 L239.69,640.38" stroke="#111" stroke-width="0.85" fill="none"/>
<path d="M250.88,646.18 L251.71,645.45 M249.45,645.01 L250.72,643.89 M248.02,643.85 L249.74,642.32 M246.58,642.68 L248.76,640.76 M245.15,641.51 L247.77,639.19 M243.72,640.34 L246.79,637.63" stroke="#111" stroke-width="0.85" fill="none"/>
<path d="M198.25,657.30 L192.25,662.50 M209.25,657.30 L213.42,662.10 M218.42,662.10 L223.80,657.20 M233.00,657.20 L239.25,662.10 M244.45,662.10 L249.70,656.90 M261.10,656.90 L266.70,662.10 M202.65,636.50 L202.65,645.50" stroke="#222" stroke-width="0.75" fill="none"/>
<text x="282.60" y="733.90" font-size="10.0" text-anchor="middle" fill="#ff1f1f" stroke="#ff1f1f">Fe</text>
<text x="306.90" y="733.90" font-size="10.0" text-anchor="middle" fill="#ff1f1f" stroke="#ff1f1f">Ni</text>
<text x="333.30" y="733.90" font-size="10.0" text-anchor="middle" fill="#ff1f1f" stroke="#ff1f1f">Co</text>
<text x="269.20" y="749.20" font-size="10.0" text-anchor="middle" fill="#222" stroke="#222">O</text>
<text x="294.75" y="749.20" font-size="10.0" text-anchor="middle" fill="#222" stroke="#222">O</text>
<text x="320.10" y="749.20" font-size="10.0" text-anchor="middle" fill="#222" stroke="#222">O</text>
<text x="347.30" y="749.20" font-size="10.0" text-anchor="middle" fill="#222" stroke="#222">O</text>
<text x="331.30" y="713.60" font-size="10.0" fill="#222" stroke="#222">OH</text>
<path d="M332.75,727.30 L333.45,727.30 L334.75,716.30 L331.45,716.30 Z" fill="#111"/>
<text x="320.10" y="709.00" font-size="10.0" text-anchor="middle" fill="#222" stroke="#222">H</text>
<text x="320.10" y="718.50" font-size="10.0" text-anchor="middle" fill="#1a1aff" stroke="#1a1aff">O</text>
<path d="M310.29,725.67 L311.11,726.40 M311.27,724.13 L312.53,725.27 M312.25,722.60 L313.95,724.14 M313.22,721.06 L315.38,723.00 M314.20,719.53 L316.80,721.87 M315.18,718.00 L318.22,720.74" stroke="#111" stroke-width="0.85" fill="none"/>
<path d="M328.91,726.57 L329.76,725.87 M327.55,725.39 L328.85,724.31 M326.18,724.22 L327.95,722.75 M324.82,723.04 L327.05,721.19 M323.45,721.87 L326.15,719.63 M322.09,720.69 L325.24,718.07" stroke="#111" stroke-width="0.85" fill="none"/>
<text x="285.50" y="713.50" font-size="10.0" text-anchor="middle" fill="#222" stroke="#222">O</text>
<text x="301.10" y="713.50" font-size="10.0" text-anchor="middle" fill="#222" stroke="#222">O</text>
<path d="M277.20,737.70 L271.20,742.90 M288.20,737.70 L292.35,742.50 M297.35,742.50 L302.70,737.60 M311.90,737.60 L317.70,742.50 M322.90,742.50 L327.70,737.30 M339.10,737.30 L344.70,742.50 M289.10,709.90 L297.50,709.90 M284.70,717.10 L281.00,725.70 M301.70,717.10 L305.30,725.70" stroke="#222" stroke-width="0.75" fill="none"/>
<text x="419.00" y="551.40" font-size="10.0" text-anchor="middle" fill="#ff1f1f" stroke="#ff1f1f">Fe</text>
<text x="443.10" y="551.40" font-size="10.0" text-anchor="middle" fill="#ff1f1f" stroke="#ff1f1f">Ni</text>
<text x="470.90" y="551.40" font-size="10.0" text-anchor="middle" fill="#ff1f1f" stroke="#ff1f1f">Co</text>
<text x="405.60" y="566.70" font-size="10.0" text-anchor="middle" fill="#222" stroke="#222">O</text>
<text x="431.05" y="566.70" font-size="10.0" text-anchor="middle" fill="#222" stroke="#222">O</text>
<text x="457.00" y="566.70" font-size="10.0" text-anchor="middle" fill="#222" stroke="#222">O</text>
<text x="484.90" y="566.70" font-size="10.0" text-anchor="middle" fill="#222" stroke="#222">O</text>
<text x="445.20" y="531.10" font-size="10.0" text-anchor="end" stroke="#1a1a1a">H<tspan fill="#1a1aff" stroke="#1a1aff">O</tspan></text>
<path d="M442.15,542.80 L442.85,542.80 L444.15,533.80 L440.85,533.80 Z" fill="#111"/>
<text x="468.90" y="531.10" font-size="10.0" fill="#222" stroke="#222">OH</text>
<path d="M470.35,544.80 L471.05,544.80 L472.35,533.80 L469.05,533.80 Z" fill="#111"/>
<text x="457.00" y="526.50" font-size="10.0" text-anchor="middle" fill="#222" stroke="#222">H</text>
<text x="457.00" y="536.00" font-size="10.0" text-anchor="middle" fill="#1a1aff" stroke="#1a1aff">O</text>
<path d="M446.57,543.15 L447.35,543.92 M447.67,541.60 L448.88,542.80 M448.77,540.06 L450.41,541.67 M449.88,538.51 L451.94,540.55 M450.98,536.97 L453.47,539.43 M452.08,535.43 L455.00,538.31" stroke="#111" stroke-width="0.85" fill="none"/>
<path d="M466.47,544.09 L467.28,543.35 M465.00,542.92 L466.25,541.78 M463.53,541.76 L465.22,540.21 M462.06,540.60 L464.19,538.64 M460.58,539.43 L463.17,537.07 M459.11,538.27 L462.14,535.50" stroke="#111" stroke-width="0.85" fill="none"/>
<path d="M413.60,555.20 L407.60,560.40 M424.60,555.20 L428.65,560.00 M433.65,560.00 L438.90,555.10 M448.10,555.10 L454.60,560.00 M459.80,560.00 L465.30,554.80 M476.70,554.80 L482.30,560.00" stroke="#222" stroke-width="0.75" fill="none"/>
<text x="564.00" y="549.00" font-size="10.0" text-anchor="middle" fill="#ff1f1f" stroke="#ff1f1f">Fe</text>
<text x="588.20" y="549.00" font-size="10.0" text-anchor="middle" fill="#ff1f1f" stroke="#ff1f1f">Ni</text>
<text x="615.20" y="549.00" font-size="10.0" text-anchor="middle" fill="#ff1f1f" stroke="#ff1f1f">Co</text>
<text x="550.60" y="564.30" font-size="10.0" text-anchor="middle" fill="#222" stroke="#222">O</text>
<text x="576.10" y="564.30" font-size="10.0" text-anchor="middle" fill="#222" stroke="#222">O</text>
<text x="601.70" y="564.30" font-size="10.0" text-anchor="middle" fill="#222" stroke="#222">O</text>
<text x="629.20" y="564.30" font-size="10.0" text-anchor="middle" fill="#222" stroke="#222">O</text>
<text x="566.70" y="528.70" font-size="10.0" text-anchor="end" stroke="#1a1a1a">H<tspan fill="#1a1aff" stroke="#1a1aff">O</tspan></text>
<text x="590.30" y="528.70" font-size="10.0" text-anchor="end" stroke="#1a1a1a">H<tspan fill="#1a1aff" stroke="#1a1aff">O</tspan></text>
<path d="M587.25,540.40 L587.95,540.40 L589.25,531.40 L585.95,531.40 Z" fill="#111"/>
<text x="613.20" y="528.70" font-size="10.0" fill="#222" stroke="#222">OH</text>
<path d="M614.65,542.40 L615.35,542.40 L616.65,531.40 L613.35,531.40 Z" fill="#111"/>
<text x="601.70" y="524.10" font-size="10.0" text-anchor="middle" fill="#222" stroke="#222">H</text>
<text x="601.70" y="533.60" font-size="10.0" text-anchor="middle" fill="#1a1aff" stroke="#1a1aff">O</text>
<path d="M591.62,540.76 L592.43,541.51 M592.65,539.22 L593.90,540.38 M593.69,537.68 L595.36,539.25 M594.72,536.14 L596.83,538.13 M595.75,534.60 L598.30,537.00 M596.78,533.06 L599.77,535.87" stroke="#111" stroke-width="0.85" fill="none"/>
<path d="M610.79,541.68 L611.62,540.96 M609.38,540.51 L610.67,539.39 M607.97,539.34 L609.71,537.83 M606.56,538.17 L608.75,536.27 M605.15,537.00 L607.80,534.70 M603.74,535.83 L606.84,533.14" stroke="#111" stroke-width="0.85" fill="none"/>
<path d="M558.60,552.80 L552.60,558.00 M569.60,552.80 L573.70,557.60 M578.70,557.60 L584.00,552.70 M593.20,552.70 L599.30,557.60 M604.50,557.60 L609.60,552.40 M621.00,552.40 L626.60,557.60 M563.00,532.00 L563.00,541.00" stroke="#222" stroke-width="0.75" fill="none"/>
<text x="586.20" y="661.50" font-size="10.0" text-anchor="middle" fill="#ff1f1f" stroke="#ff1f1f">Fe</text>
<text x="610.30" y="661.50" font-size="10.0" text-anchor="middle" fill="#ff1f1f" stroke="#ff1f1f">Ni</text>
<text x="638.00" y="661.50" font-size="10.0" text-anchor="middle" fill="#ff1f1f" stroke="#ff1f1f">Co</text>
<text x="572.80" y="676.80" font-size="10.0" text-anchor="middle" fill="#222" stroke="#222">O</text>
<text x="598.25" y="676.80" font-size="10.0" text-anchor="middle" fill="#222" stroke="#222">O</text>
<text x="624.15" y="676.80" font-size="10.0" text-anchor="middle" fill="#222" stroke="#222">O</text>
<text x="652.00" y="676.80" font-size="10.0" text-anchor="middle" fill="#222" stroke="#222">O</text>
<text x="586.20" y="641.20" font-size="10.0" text-anchor="middle" fill="#1a1aff" stroke="#1a1aff">O</text>
<text x="612.40" y="641.20" font-size="10.0" text-anchor="end" stroke="#1a1a1a">H<tspan fill="#1a1aff" stroke="#1a1aff">O</tspan></text>
<path d="M609.35,652.90 L610.05,652.90 L611.35,643.90 L608.05,643.90 Z" fill="#111"/>
<text x="636.00" y="641.20" font-size="10.0" fill="#222" stroke="#222">OH</text>
<path d="M637.45,654.90 L638.15,654.90 L639.45,643.90 L636.15,643.90 Z" fill="#111"/>
<text x="624.15" y="636.60" font-size="10.0" text-anchor="middle" fill="#222" stroke="#222">H</text>
<text x="624.15" y="646.10" font-size="10.0" text-anchor="middle" fill="#1a1aff" stroke="#1a1aff">O</text>
<path d="M613.76,653.25 L614.55,654.02 M614.86,651.70 L616.07,652.90 M615.95,650.16 L617.59,651.77 M617.04,648.62 L619.11,650.65 M618.14,647.07 L620.64,649.53 M619.23,645.53 L622.16,648.40" stroke="#111" stroke-width="0.85" fill="none"/>
<path d="M633.57,654.19 L634.39,653.45 M632.11,653.02 L633.37,651.88 M630.64,651.86 L632.35,650.31 M629.18,650.69 L631.33,648.74 M627.72,649.53 L630.31,647.17 M626.25,648.36 L629.29,645.60" stroke="#111" stroke-width="0.85" fill="none"/>
<path d="M580.80,665.30 L574.80,670.50 M591.80,665.30 L595.85,670.10 M600.85,670.10 L606.10,665.20 M615.30,665.20 L621.75,670.10 M626.95,670.10 L632.40,664.90 M643.80,664.90 L649.40,670.10 M586.20,644.50 L586.20,653.50" stroke="#222" stroke-width="0.75" fill="none"/>
<text x="405.20" y="660.80" font-size="10.0" text-anchor="middle" fill="#ff1f1f" stroke="#ff1f1f">Fe</text>
<text x="429.70" y="660.80" font-size="10.0" text-anchor="middle" fill="#ff1f1f" stroke="#ff1f1f">Ni</text>
<text x="456.00" y="660.80" font-size="10.0" text-anchor="middle" fill="#ff1f1f" stroke="#ff1f1f">Co</text>
<text x="391.80" y="676.10" font-size="10.0" text-anchor="middle" fill="#222" stroke="#222">O</text>
<text x="417.45" y="676.10" font-size="10.0" text-anchor="middle" fill="#222" stroke="#222">O</text>
<text x="442.85" y="676.10" font-size="10.0" text-anchor="middle" fill="#222" stroke="#222">O</text>
<text x="470.00" y="676.10" font-size="10.0" text-anchor="middle" fill="#222" stroke="#222">O</text>
<text x="454.00" y="640.50" font-size="10.0" fill="#222" stroke="#222">OH</text>
<path d="M455.45,654.20 L456.15,654.20 L457.45,643.20 L454.15,643.20 Z" fill="#111"/>
<text x="442.85" y="635.90" font-size="10.0" text-anchor="middle" fill="#222" stroke="#222">H</text>
<text x="442.85" y="645.40" font-size="10.0" text-anchor="middle" fill="#1a1aff" stroke="#1a1aff">O</text>
<path d="M433.09,652.57 L433.91,653.30 M434.05,651.03 L435.32,652.17 M435.02,649.50 L436.74,651.03 M435.99,647.97 L438.15,649.90 M436.96,646.43 L439.57,648.77 M437.93,644.90 L440.98,647.63" stroke="#111" stroke-width="0.85" fill="none"/>
<path d="M451.61,653.47 L452.46,652.77 M450.26,652.29 L451.57,651.21 M448.90,651.11 L450.68,649.65 M447.54,649.94 L449.78,648.10 M446.19,648.76 L448.89,646.54 M444.83,647.59 L448.00,644.98" stroke="#111" stroke-width="0.85" fill="none"/>
<path d="M399.80,664.60 L393.80,669.80 M410.80,664.60 L415.05,669.40 M420.05,669.40 L425.50,664.50 M434.70,664.50 L440.45,669.40 M445.65,669.40 L450.40,664.20 M461.80,664.20 L467.40,669.40" stroke="#222" stroke-width="0.75" fill="none"/>
<text x="498.30" y="740.80" font-size="10.0" text-anchor="middle" fill="#ff1f1f" stroke="#ff1f1f">Fe</text>
<text x="521.60" y="740.80" font-size="10.0" text-anchor="middle" fill="#ff1f1f" stroke="#ff1f1f">Ni</text>
<text x="548.00" y="740.80" font-size="10.0" text-anchor="middle" fill="#ff1f1f" stroke="#ff1f1f">Co</text>
<text x="484.90" y="756.10" font-size="10.0" text-anchor="middle" fill="#222" stroke="#222">O</text>
<text x="509.95" y="756.10" font-size="10.0" text-anchor="middle" fill="#222" stroke="#222">O</text>
<text x="534.80" y="756.10" font-size="10.0" text-anchor="middle" fill="#222" stroke="#222">O</text>
<text x="562.00" y="756.10" font-size="10.0" text-anchor="middle" fill="#222" stroke="#222">O</text>
<text x="546.00" y="720.50" font-size="10.0" fill="#222" stroke="#222">OH</text>
<path d="M547.45,734.20 L548.15,734.20 L549.45,723.20 L546.15,723.20 Z" fill="#111"/>
<text x="534.80" y="715.90" font-size="10.0" text-anchor="middle" fill="#222" stroke="#222">H</text>
<text x="534.80" y="725.40" font-size="10.0" text-anchor="middle" fill="#1a1aff" stroke="#1a1aff">O</text>
<path d="M524.99,732.57 L525.81,733.30 M525.97,731.03 L527.23,732.17 M526.95,729.50 L528.65,731.04 M527.92,727.96 L530.08,729.90 M528.90,726.43 L531.50,728.77 M529.88,724.90 L532.92,727.64" stroke="#111" stroke-width="0.85" fill="none"/>
<path d="M543.61,733.47 L544.46,732.77 M542.25,732.29 L543.55,731.21 M540.88,731.12 L542.65,729.65 M539.52,729.94 L541.75,728.09 M538.15,728.77 L540.85,726.53 M536.79,727.59 L539.94,724.97" stroke="#111" stroke-width="0.85" fill="none"/>
<text x="501.20" y="720.40" font-size="10.0" text-anchor="middle" fill="#1a1aff" stroke="#1a1aff">O</text>
<text x="515.80" y="720.40" font-size="10.0" text-anchor="middle" fill="#1a1aff" stroke="#1a1aff">O</text>
<path d="M492.90,744.60 L486.90,749.80 M503.90,744.60 L507.55,749.40 M512.55,749.40 L517.40,744.50 M526.60,744.50 L532.40,749.40 M537.60,749.40 L542.40,744.20 M553.80,744.20 L559.40,749.40 M504.80,716.80 L512.20,716.80 M500.40,724.00 L496.70,732.60 M516.40,724.00 L520.00,732.60" stroke="#222" stroke-width="0.75" fill="none"/>
<text x="285.40" y="626.50" font-size="14" fill="#a8824e" font-weight="bold" font-style="italic" textLength="80.2" lengthAdjust="spacingAndGlyphs" stroke="#a8824e">Constructing</text>
<text x="277.20" y="642.60" font-size="14" fill="#a8824e" font-weight="bold" font-style="italic" textLength="34.6" lengthAdjust="spacingAndGlyphs" stroke="#a8824e">Fe-Ni</text>
<text x="318.20" y="642.60" font-size="14" fill="#a8824e" font-weight="bold" font-style="italic" textLength="25.7" lengthAdjust="spacingAndGlyphs" stroke="#a8824e">dual</text>
<text x="349.50" y="642.60" font-size="14" fill="#a8824e" font-weight="bold" font-style="italic" textLength="23.5" lengthAdjust="spacingAndGlyphs" stroke="#a8824e">site</text>
<text x="489.40" y="633.90" font-size="14" fill="#a8824e" font-weight="bold" font-style="italic" textLength="27.2" lengthAdjust="spacingAndGlyphs" stroke="#a8824e">OER</text>
<text x="523.60" y="633.90" font-size="14" fill="#a8824e" font-weight="bold" font-style="italic" textLength="40" lengthAdjust="spacingAndGlyphs" stroke="#a8824e">cycling</text>
<text x="437.10" y="609.30" font-size="11.5" fill="#ff2cff" font-style="italic" textLength="23.6" lengthAdjust="spacingAndGlyphs" stroke="#ff2cff">RLS</text>
<text x="189.00" y="568.50" font-size="11.5" stroke="#1a1a1a"><tspan fill="#1a1aff" stroke="#1a1aff">O</tspan>H<tspan font-size="7" dy="-4.5">-</tspan></text>
<text x="194.70" y="593.10" font-size="11.5" stroke="#1a1a1a">e<tspan font-size="7" dy="-4.5">-</tspan></text>
<path d="M252.6,563.7 C240,571 228,584 227,607.4" stroke="#222" stroke-width="0.9" fill="none" marker-end="url(#ah)"/>
<path d="M209.9,566.6 C220,568 231,574 235.2,582" stroke="#222" stroke-width="0.9" fill="none"/>
<path d="M234.4,583.5 C230,589 216,589.5 205.1,589.7" stroke="#222" stroke-width="0.9" fill="none" marker-end="url(#ah)"/>
<text x="188.20" y="713.20" font-size="11.5" stroke="#1a1a1a"><tspan fill="#1a1aff" stroke="#1a1aff">O</tspan>H<tspan font-size="7" dy="-4.5">-</tspan></text>
<text x="194.50" y="739.40" font-size="11.5" stroke="#1a1a1a">H<tspan font-size="7.5" dy="2.5">2</tspan><tspan dy="-2.5" fill="#1a1aff" stroke="#1a1aff">O</tspan> + e<tspan font-size="7" dy="-4.5">−</tspan></text>
<path d="M229.6,679.3 C231,695 243,712 261.1,724.9" stroke="#222" stroke-width="0.9" fill="none" marker-end="url(#ah)"/>
<path d="M209.7,708.5 C220,706 231,704 238,704.5" stroke="#222" stroke-width="0.9" fill="none"/>
<path d="M238,705.5 C234,715 226,722 220.2,728.4" stroke="#222" stroke-width="0.9" fill="none" marker-end="url(#ah)"/>
<path d="M353.6,729.6 C378,727 405,712 416.6,683.4" stroke="#222" stroke-width="0.9" fill="none" marker-end="url(#ah)"/>
<path d="M389.8,718.4 C398,717 406,722 409.6,732.4" stroke="#222" stroke-width="0.9" fill="none" marker-end="url(#ah)"/>
<text x="406.10" y="745.30" font-size="11" stroke="#1a1a1a">O<tspan font-size="7.5" dy="2.5">2</tspan></text>
<path d="M431.8,627.7 C430.5,612 432,592 438.9,578.8" stroke="#ff2cff" stroke-width="0.9" fill="none" marker-end="url(#ahm)"/>
<path d="M400,618.9 C415,617 427,614 431.2,610" stroke="#ff2cff" stroke-width="0.9" fill="none"/>
<path d="M431.2,609 C425,603 412,599 402,596.7" stroke="#ff2cff" stroke-width="0.9" fill="none" marker-end="url(#ahm)"/>
<text x="377.50" y="622.90" font-size="11.5" stroke="#1a1a1a"><tspan fill="#1a1aff" stroke="#1a1aff">O</tspan>H<tspan font-size="7" dy="-4.5">-</tspan></text>
<text x="391.20" y="598.80" font-size="11.5" stroke="#1a1a1a">e<tspan font-size="7" dy="-4.5">-</tspan></text>
<path d="M490.3,539 C505,530 530,528 548.4,538.4" stroke="#222" stroke-width="0.9" fill="none" marker-end="url(#ah)"/>
<path d="M502.8,514.2 C506,522 512,528 517,530" stroke="#222" stroke-width="0.9" fill="none"/>
<path d="M518,530 C526,528 532,522 535,514.2" stroke="#222" stroke-width="0.9" fill="none" marker-end="url(#ah)"/>
<text x="495.90" y="511.00" font-size="11.5" stroke="#1a1a1a"><tspan fill="#1a1aff" stroke="#1a1aff">O</tspan>H<tspan font-size="7" dy="-4.5">−</tspan></text>
<text x="534.10" y="510.50" font-size="11.5" stroke="#1a1a1a">e<tspan font-size="7" dy="-4.5">−</tspan></text>
<path d="M596.6,576 C603,590 605,605 603.8,625.4" stroke="#222" stroke-width="0.9" fill="none" marker-end="url(#ah)"/>
<path d="M633.2,584 C622,587 610,592 604.3,599" stroke="#222" stroke-width="0.9" fill="none"/>
<path d="M604.3,600 C612,604 622,606 633.2,607.3" stroke="#222" stroke-width="0.9" fill="none" marker-end="url(#ah)"/>
<text x="635.20" y="585.60" font-size="11.5" stroke="#1a1a1a"><tspan fill="#1a1aff" stroke="#1a1aff">O</tspan>H<tspan font-size="7" dy="-4.5">−</tspan></text>
<text x="636.80" y="611.00" font-size="11.5" stroke="#1a1a1a">H<tspan font-size="7.5" dy="2.5">2</tspan><tspan dy="-2.5" fill="#1a1aff" stroke="#1a1aff">O</tspan> + e<tspan font-size="7" dy="-4.5">−</tspan></text>
<path d="M605.2,685.4 C600,700 590,718 569.6,728.8" stroke="#222" stroke-width="0.9" fill="none" marker-end="url(#ah)"/>
<path d="M631,720.3 C620,711 605,705 594,705.5" stroke="#222" stroke-width="0.9" fill="none"/>
<path d="M594,706 C594,715 596,728 597.6,737.3" stroke="#222" stroke-width="0.9" fill="none" marker-end="url(#ah)"/>
<text x="631.00" y="727.30" font-size="11.5" stroke="#1a1a1a"><tspan fill="#1a1aff" stroke="#1a1aff">O</tspan>H<tspan font-size="7" dy="-4.5">−</tspan></text>
<text x="585.50" y="748.50" font-size="11.5" stroke="#1a1a1a">H<tspan font-size="7.5" dy="2.5">2</tspan><tspan dy="-2.5" fill="#1a1aff" stroke="#1a1aff">O</tspan> + e<tspan font-size="7" dy="-4.5">−</tspan></text>
<path d="M481.9,734.3 C465,722 452,708 445.2,689.2" stroke="#222" stroke-width="0.9" fill="none" marker-end="url(#ah)"/>
<path d="M456.2,710.2 C448,710 443,718 442.2,730.1" stroke="#222" stroke-width="0.9" fill="none" marker-end="url(#ah)"/>
<text x="438.20" y="742.90" font-size="11" fill="#1a1aff" stroke="#1a1aff">O<tspan font-size="7.5" dy="2.5" fill="#222" stroke="#222">2</tspan></text>
</svg>
</body></html>
